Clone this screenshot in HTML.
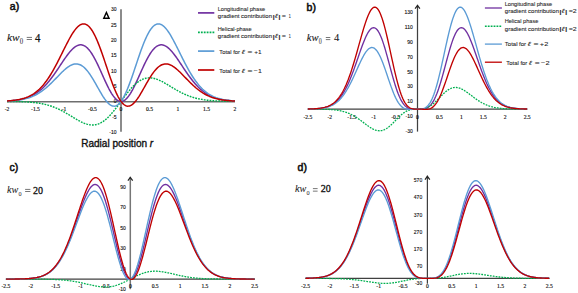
<!DOCTYPE html>
<html><head><meta charset="utf-8"><style>
html,body{margin:0;padding:0;background:#fff;}
body{width:578px;height:293px;overflow:hidden;font-family:"Liberation Sans",sans-serif;}
svg{display:block;}
</style></head><body>
<svg width="578" height="293" viewBox="0 0 578 293">
<rect width="578" height="293" fill="#fff"/>
<line x1="7.00" y1="101.75" x2="235.00" y2="101.75" stroke="#6e6e6e" stroke-width="1.6"/>
<line x1="121.00" y1="9.20" x2="121.00" y2="131.80" stroke="#6e6e6e" stroke-width="1.6"/>
<text x="116.60" y="11.40" font-family='"Liberation Sans", sans-serif' font-size="5.00" text-anchor="end" font-weight="normal" font-style="normal" fill="#111" stroke="#111" stroke-width="0.12">30</text>
<text x="116.60" y="26.70" font-family='"Liberation Sans", sans-serif' font-size="5.00" text-anchor="end" font-weight="normal" font-style="normal" fill="#111" stroke="#111" stroke-width="0.12">25</text>
<text x="116.60" y="42.00" font-family='"Liberation Sans", sans-serif' font-size="5.00" text-anchor="end" font-weight="normal" font-style="normal" fill="#111" stroke="#111" stroke-width="0.12">20</text>
<text x="116.60" y="57.30" font-family='"Liberation Sans", sans-serif' font-size="5.00" text-anchor="end" font-weight="normal" font-style="normal" fill="#111" stroke="#111" stroke-width="0.12">15</text>
<text x="116.60" y="72.60" font-family='"Liberation Sans", sans-serif' font-size="5.00" text-anchor="end" font-weight="normal" font-style="normal" fill="#111" stroke="#111" stroke-width="0.12">10</text>
<text x="116.60" y="87.90" font-family='"Liberation Sans", sans-serif' font-size="5.00" text-anchor="end" font-weight="normal" font-style="normal" fill="#111" stroke="#111" stroke-width="0.12">5</text>
<text x="116.60" y="103.20" font-family='"Liberation Sans", sans-serif' font-size="5.00" text-anchor="end" font-weight="normal" font-style="normal" fill="#111" stroke="#111" stroke-width="0.12">0</text>
<text x="116.60" y="118.50" font-family='"Liberation Sans", sans-serif' font-size="5.00" text-anchor="end" font-weight="normal" font-style="normal" fill="#111" stroke="#111" stroke-width="0.12">-5</text>
<text x="116.60" y="133.80" font-family='"Liberation Sans", sans-serif' font-size="5.00" text-anchor="end" font-weight="normal" font-style="normal" fill="#111" stroke="#111" stroke-width="0.12">-10</text>
<text x="7.00" y="110.80" font-family='"Liberation Serif", serif' font-size="5.60" text-anchor="middle" font-weight="normal" font-style="normal" fill="#000" stroke="#000" stroke-width="0.12">-2</text>
<text x="35.50" y="110.80" font-family='"Liberation Serif", serif' font-size="5.60" text-anchor="middle" font-weight="normal" font-style="normal" fill="#000" stroke="#000" stroke-width="0.12">-1.5</text>
<text x="64.00" y="110.80" font-family='"Liberation Serif", serif' font-size="5.60" text-anchor="middle" font-weight="normal" font-style="normal" fill="#000" stroke="#000" stroke-width="0.12">-1</text>
<text x="92.50" y="110.80" font-family='"Liberation Serif", serif' font-size="5.60" text-anchor="middle" font-weight="normal" font-style="normal" fill="#000" stroke="#000" stroke-width="0.12">-0.5</text>
<text x="121.00" y="110.80" font-family='"Liberation Serif", serif' font-size="5.60" text-anchor="middle" font-weight="normal" font-style="normal" fill="#000" stroke="#000" stroke-width="0.12">0</text>
<text x="149.50" y="110.80" font-family='"Liberation Serif", serif' font-size="5.60" text-anchor="middle" font-weight="normal" font-style="normal" fill="#000" stroke="#000" stroke-width="0.12">0.5</text>
<text x="178.00" y="110.80" font-family='"Liberation Serif", serif' font-size="5.60" text-anchor="middle" font-weight="normal" font-style="normal" fill="#000" stroke="#000" stroke-width="0.12">1</text>
<text x="206.50" y="110.80" font-family='"Liberation Serif", serif' font-size="5.60" text-anchor="middle" font-weight="normal" font-style="normal" fill="#000" stroke="#000" stroke-width="0.12">1.5</text>
<text x="235.00" y="110.80" font-family='"Liberation Serif", serif' font-size="5.60" text-anchor="middle" font-weight="normal" font-style="normal" fill="#000" stroke="#000" stroke-width="0.12">2</text>
<path d="M7.00,100.99 L7.95,100.94 L8.90,100.88 L9.85,100.82 L10.80,100.75 L11.75,100.67 L12.70,100.59 L13.65,100.49 L14.60,100.39 L15.55,100.28 L16.50,100.16 L17.45,100.02 L18.40,99.87 L19.35,99.71 L20.30,99.53 L21.25,99.34 L22.20,99.13 L23.15,98.90 L24.10,98.65 L25.05,98.39 L26.00,98.10 L26.95,97.78 L27.90,97.45 L28.85,97.09 L29.80,96.70 L30.75,96.28 L31.70,95.83 L32.65,95.35 L33.60,94.84 L34.55,94.29 L35.50,93.71 L36.45,93.10 L37.40,92.44 L38.35,91.75 L39.30,91.02 L40.25,90.25 L41.20,89.44 L42.15,88.59 L43.10,87.69 L44.05,86.76 L45.00,85.78 L45.95,84.76 L46.90,83.70 L47.85,82.60 L48.80,81.47 L49.75,80.29 L50.70,79.07 L51.65,77.82 L52.60,76.54 L53.55,75.23 L54.50,73.89 L55.45,72.52 L56.40,71.13 L57.35,69.73 L58.30,68.31 L59.25,66.88 L60.20,65.45 L61.15,64.02 L62.10,62.59 L63.05,61.18 L64.00,59.78 L64.95,58.41 L65.90,57.06 L66.85,55.75 L67.80,54.48 L68.75,53.27 L69.70,52.10 L70.65,51.00 L71.60,49.97 L72.55,49.02 L73.50,48.15 L74.45,47.36 L75.40,46.68 L76.35,46.09 L77.30,45.61 L78.25,45.24 L79.20,44.99 L80.15,44.85 L81.10,44.84 L82.05,44.96 L83.00,45.21 L83.95,45.59 L84.90,46.10 L85.85,46.74 L86.80,47.51 L87.75,48.41 L88.70,49.44 L89.65,50.60 L90.60,51.88 L91.55,53.27 L92.50,54.77 L93.45,56.37 L94.40,58.07 L95.35,59.86 L96.30,61.73 L97.25,63.67 L98.20,65.67 L99.15,67.72 L100.10,69.80 L101.05,71.91 L102.00,74.04 L102.95,76.17 L103.90,78.28 L104.85,80.37 L105.80,82.43 L106.75,84.44 L107.70,86.38 L108.65,88.26 L109.60,90.04 L110.55,91.74 L111.50,93.32 L112.45,94.79 L113.40,96.12 L114.35,97.33 L115.30,98.39 L116.25,99.29 L117.20,100.05 L118.15,100.64 L119.10,101.06 L120.05,101.31 L121.00,101.40 L121.95,101.31 L122.90,101.06 L123.85,100.64 L124.80,100.05 L125.75,99.29 L126.70,98.39 L127.65,97.33 L128.60,96.12 L129.55,94.79 L130.50,93.32 L131.45,91.74 L132.40,90.04 L133.35,88.26 L134.30,86.38 L135.25,84.44 L136.20,82.43 L137.15,80.37 L138.10,78.28 L139.05,76.17 L140.00,74.04 L140.95,71.91 L141.90,69.80 L142.85,67.72 L143.80,65.67 L144.75,63.67 L145.70,61.73 L146.65,59.86 L147.60,58.07 L148.55,56.37 L149.50,54.77 L150.45,53.27 L151.40,51.88 L152.35,50.60 L153.30,49.44 L154.25,48.41 L155.20,47.51 L156.15,46.74 L157.10,46.10 L158.05,45.59 L159.00,45.21 L159.95,44.96 L160.90,44.84 L161.85,44.85 L162.80,44.99 L163.75,45.24 L164.70,45.61 L165.65,46.09 L166.60,46.68 L167.55,47.36 L168.50,48.15 L169.45,49.02 L170.40,49.97 L171.35,51.00 L172.30,52.10 L173.25,53.27 L174.20,54.48 L175.15,55.75 L176.10,57.06 L177.05,58.41 L178.00,59.78 L178.95,61.18 L179.90,62.59 L180.85,64.02 L181.80,65.45 L182.75,66.88 L183.70,68.31 L184.65,69.73 L185.60,71.13 L186.55,72.52 L187.50,73.89 L188.45,75.23 L189.40,76.54 L190.35,77.82 L191.30,79.07 L192.25,80.29 L193.20,81.47 L194.15,82.60 L195.10,83.70 L196.05,84.76 L197.00,85.78 L197.95,86.76 L198.90,87.69 L199.85,88.59 L200.80,89.44 L201.75,90.25 L202.70,91.02 L203.65,91.75 L204.60,92.44 L205.55,93.10 L206.50,93.71 L207.45,94.29 L208.40,94.84 L209.35,95.35 L210.30,95.83 L211.25,96.28 L212.20,96.70 L213.15,97.09 L214.10,97.45 L215.05,97.78 L216.00,98.10 L216.95,98.39 L217.90,98.65 L218.85,98.90 L219.80,99.13 L220.75,99.34 L221.70,99.53 L222.65,99.71 L223.60,99.87 L224.55,100.02 L225.50,100.16 L226.45,100.28 L227.40,100.39 L228.35,100.49 L229.30,100.59 L230.25,100.67 L231.20,100.75 L232.15,100.82 L233.10,100.88 L234.05,100.94 L235.00,100.99" fill="none" stroke="#7030a0" stroke-width="1.5" stroke-linejoin="round" stroke-linecap="butt"/>
<path d="M7.00,101.45 L7.95,101.46 L8.90,101.47 L9.85,101.48 L10.80,101.49 L11.75,101.50 L12.70,101.51 L13.65,101.52 L14.60,101.54 L15.55,101.55 L16.50,101.57 L17.45,101.59 L18.40,101.61 L19.35,101.64 L20.30,101.67 L21.25,101.70 L22.20,101.73 L23.15,101.77 L24.10,101.81 L25.05,101.85 L26.00,101.90 L26.95,101.95 L27.90,102.01 L28.85,102.07 L29.80,102.14 L30.75,102.22 L31.70,102.30 L32.65,102.39 L33.60,102.48 L34.55,102.58 L35.50,102.70 L36.45,102.81 L37.40,102.94 L38.35,103.08 L39.30,103.23 L40.25,103.39 L41.20,103.56 L42.15,103.74 L43.10,103.93 L44.05,104.14 L45.00,104.36 L45.95,104.59 L46.90,104.84 L47.85,105.10 L48.80,105.38 L49.75,105.67 L50.70,105.98 L51.65,106.30 L52.60,106.64 L53.55,106.99 L54.50,107.36 L55.45,107.75 L56.40,108.15 L57.35,108.57 L58.30,109.00 L59.25,109.45 L60.20,109.92 L61.15,110.40 L62.10,110.89 L63.05,111.40 L64.00,111.92 L64.95,112.45 L65.90,112.99 L66.85,113.54 L67.80,114.10 L68.75,114.67 L69.70,115.24 L70.65,115.82 L71.60,116.40 L72.55,116.97 L73.50,117.55 L74.45,118.12 L75.40,118.69 L76.35,119.25 L77.30,119.79 L78.25,120.32 L79.20,120.84 L80.15,121.34 L81.10,121.82 L82.05,122.27 L83.00,122.70 L83.95,123.10 L84.90,123.47 L85.85,123.80 L86.80,124.10 L87.75,124.36 L88.70,124.57 L89.65,124.74 L90.60,124.87 L91.55,124.95 L92.50,124.97 L93.45,124.94 L94.40,124.86 L95.35,124.73 L96.30,124.54 L97.25,124.28 L98.20,123.98 L99.15,123.61 L100.10,123.18 L101.05,122.69 L102.00,122.15 L102.95,121.54 L103.90,120.88 L104.85,120.16 L105.80,119.38 L106.75,118.55 L107.70,117.66 L108.65,116.73 L109.60,115.75 L110.55,114.72 L111.50,113.65 L112.45,112.55 L113.40,111.40 L114.35,110.22 L115.30,109.02 L116.25,107.79 L117.20,106.54 L118.15,105.27 L119.10,103.99 L120.05,102.69 L121.00,101.40 L121.95,100.11 L122.90,98.81 L123.85,97.53 L124.80,96.26 L125.75,95.01 L126.70,93.78 L127.65,92.58 L128.60,91.40 L129.55,90.25 L130.50,89.15 L131.45,88.08 L132.40,87.05 L133.35,86.07 L134.30,85.14 L135.25,84.25 L136.20,83.42 L137.15,82.64 L138.10,81.92 L139.05,81.26 L140.00,80.65 L140.95,80.11 L141.90,79.62 L142.85,79.19 L143.80,78.82 L144.75,78.52 L145.70,78.26 L146.65,78.07 L147.60,77.94 L148.55,77.86 L149.50,77.83 L150.45,77.85 L151.40,77.93 L152.35,78.06 L153.30,78.23 L154.25,78.44 L155.20,78.70 L156.15,79.00 L157.10,79.33 L158.05,79.70 L159.00,80.10 L159.95,80.53 L160.90,80.98 L161.85,81.46 L162.80,81.96 L163.75,82.48 L164.70,83.01 L165.65,83.55 L166.60,84.11 L167.55,84.68 L168.50,85.25 L169.45,85.83 L170.40,86.40 L171.35,86.98 L172.30,87.56 L173.25,88.13 L174.20,88.70 L175.15,89.26 L176.10,89.81 L177.05,90.35 L178.00,90.88 L178.95,91.40 L179.90,91.91 L180.85,92.40 L181.80,92.88 L182.75,93.35 L183.70,93.80 L184.65,94.23 L185.60,94.65 L186.55,95.05 L187.50,95.44 L188.45,95.81 L189.40,96.16 L190.35,96.50 L191.30,96.82 L192.25,97.13 L193.20,97.42 L194.15,97.70 L195.10,97.96 L196.05,98.21 L197.00,98.44 L197.95,98.66 L198.90,98.87 L199.85,99.06 L200.80,99.24 L201.75,99.41 L202.70,99.57 L203.65,99.72 L204.60,99.86 L205.55,99.99 L206.50,100.10 L207.45,100.22 L208.40,100.32 L209.35,100.41 L210.30,100.50 L211.25,100.58 L212.20,100.66 L213.15,100.73 L214.10,100.79 L215.05,100.85 L216.00,100.90 L216.95,100.95 L217.90,100.99 L218.85,101.03 L219.80,101.07 L220.75,101.10 L221.70,101.13 L222.65,101.16 L223.60,101.19 L224.55,101.21 L225.50,101.23 L226.45,101.25 L227.40,101.26 L228.35,101.28 L229.30,101.29 L230.25,101.30 L231.20,101.31 L232.15,101.32 L233.10,101.33 L234.05,101.34 L235.00,101.35" fill="none" stroke="#00b050" stroke-width="1.4249999999999998" stroke-linejoin="round" stroke-linecap="butt" stroke-dasharray="1.8,1.1"/>
<path d="M7.00,101.04 L7.95,101.00 L8.90,100.95 L9.85,100.89 L10.80,100.83 L11.75,100.77 L12.70,100.70 L13.65,100.62 L14.60,100.53 L15.55,100.43 L16.50,100.33 L17.45,100.21 L18.40,100.09 L19.35,99.95 L20.30,99.80 L21.25,99.64 L22.20,99.46 L23.15,99.27 L24.10,99.06 L25.05,98.84 L26.00,98.60 L26.95,98.34 L27.90,98.06 L28.85,97.76 L29.80,97.44 L30.75,97.09 L31.70,96.73 L32.65,96.34 L33.60,95.92 L34.55,95.48 L35.50,95.01 L36.45,94.51 L37.40,93.99 L38.35,93.43 L39.30,92.85 L40.25,92.24 L41.20,91.60 L42.15,90.93 L43.10,90.23 L44.05,89.50 L45.00,88.74 L45.95,87.96 L46.90,87.14 L47.85,86.31 L48.80,85.44 L49.75,84.56 L50.70,83.65 L51.65,82.72 L52.60,81.78 L53.55,80.82 L54.50,79.85 L55.45,78.87 L56.40,77.88 L57.35,76.90 L58.30,75.91 L59.25,74.94 L60.20,73.97 L61.15,73.02 L62.10,72.08 L63.05,71.18 L64.00,70.30 L64.95,69.46 L65.90,68.65 L66.85,67.90 L67.80,67.19 L68.75,66.54 L69.70,65.95 L70.65,65.42 L71.60,64.97 L72.55,64.59 L73.50,64.30 L74.45,64.09 L75.40,63.97 L76.35,63.94 L77.30,64.00 L78.25,64.16 L79.20,64.43 L80.15,64.79 L81.10,65.26 L82.05,65.84 L83.00,66.51 L83.95,67.29 L84.90,68.17 L85.85,69.14 L86.80,70.21 L87.75,71.37 L88.70,72.62 L89.65,73.94 L90.60,75.34 L91.55,76.81 L92.50,78.34 L93.45,79.92 L94.40,81.54 L95.35,83.19 L96.30,84.87 L97.25,86.56 L98.20,88.25 L99.15,89.92 L100.10,91.58 L101.05,93.21 L102.00,94.78 L102.95,96.31 L103.90,97.76 L104.85,99.13 L105.80,100.41 L106.75,101.59 L107.70,102.65 L108.65,103.59 L109.60,104.39 L110.55,105.06 L111.50,105.57 L112.45,105.93 L113.40,106.12 L114.35,106.15 L115.30,106.00 L116.25,105.68 L117.20,105.18 L118.15,104.50 L119.10,103.64 L120.05,102.61 L121.00,101.40 L121.95,100.02 L122.90,98.47 L123.85,96.77 L124.80,94.91 L125.75,92.91 L126.70,90.77 L127.65,88.50 L128.60,86.12 L129.55,83.64 L130.50,81.07 L131.45,78.41 L132.40,75.69 L133.35,72.93 L134.30,70.12 L135.25,67.29 L136.20,64.45 L137.15,61.62 L138.10,58.81 L139.05,56.03 L140.00,53.29 L140.95,50.62 L141.90,48.02 L142.85,45.51 L143.80,43.09 L144.75,40.79 L145.70,38.60 L146.65,36.54 L147.60,34.61 L148.55,32.83 L149.50,31.20 L150.45,29.72 L151.40,28.41 L152.35,27.26 L153.30,26.27 L154.25,25.46 L155.20,24.81 L156.15,24.34 L157.10,24.03 L158.05,23.89 L159.00,23.91 L159.95,24.09 L160.90,24.43 L161.85,24.91 L162.80,25.54 L163.75,26.31 L164.70,27.22 L165.65,28.24 L166.60,29.39 L167.55,30.64 L168.50,32.00 L169.45,33.44 L170.40,34.98 L171.35,36.58 L172.30,38.26 L173.25,39.99 L174.20,41.78 L175.15,43.61 L176.10,45.47 L177.05,47.36 L178.00,49.26 L178.95,51.18 L179.90,53.10 L180.85,55.02 L181.80,56.93 L182.75,58.83 L183.70,60.71 L184.65,62.56 L185.60,64.39 L186.55,66.17 L187.50,67.93 L188.45,69.64 L189.40,71.31 L190.35,72.93 L191.30,74.50 L192.25,76.02 L193.20,77.49 L194.15,78.90 L195.10,80.26 L196.05,81.57 L197.00,82.82 L197.95,84.02 L198.90,85.16 L199.85,86.25 L200.80,87.28 L201.75,88.26 L202.70,89.19 L203.65,90.07 L204.60,90.90 L205.55,91.68 L206.50,92.42 L207.45,93.11 L208.40,93.76 L209.35,94.36 L210.30,94.93 L211.25,95.46 L212.20,95.95 L213.15,96.41 L214.10,96.84 L215.05,97.23 L216.00,97.60 L216.95,97.93 L217.90,98.25 L218.85,98.53 L219.80,98.80 L220.75,99.04 L221.70,99.27 L222.65,99.47 L223.60,99.66 L224.55,99.83 L225.50,99.98 L226.45,100.13 L227.40,100.26 L228.35,100.37 L229.30,100.48 L230.25,100.58 L231.20,100.66 L232.15,100.74 L233.10,100.81 L234.05,100.88 L235.00,100.94" fill="none" stroke="#5b9bd5" stroke-width="1.5" stroke-linejoin="round" stroke-linecap="butt"/>
<path d="M7.00,100.94 L7.95,100.88 L8.90,100.81 L9.85,100.74 L10.80,100.66 L11.75,100.58 L12.70,100.48 L13.65,100.37 L14.60,100.26 L15.55,100.13 L16.50,99.98 L17.45,99.83 L18.40,99.66 L19.35,99.47 L20.30,99.27 L21.25,99.04 L22.20,98.80 L23.15,98.53 L24.10,98.25 L25.05,97.93 L26.00,97.60 L26.95,97.23 L27.90,96.84 L28.85,96.41 L29.80,95.95 L30.75,95.46 L31.70,94.93 L32.65,94.36 L33.60,93.76 L34.55,93.11 L35.50,92.42 L36.45,91.68 L37.40,90.90 L38.35,90.07 L39.30,89.19 L40.25,88.26 L41.20,87.28 L42.15,86.25 L43.10,85.16 L44.05,84.02 L45.00,82.82 L45.95,81.57 L46.90,80.26 L47.85,78.90 L48.80,77.49 L49.75,76.02 L50.70,74.50 L51.65,72.93 L52.60,71.31 L53.55,69.64 L54.50,67.93 L55.45,66.17 L56.40,64.39 L57.35,62.56 L58.30,60.71 L59.25,58.83 L60.20,56.93 L61.15,55.02 L62.10,53.10 L63.05,51.18 L64.00,49.26 L64.95,47.36 L65.90,45.47 L66.85,43.61 L67.80,41.78 L68.75,39.99 L69.70,38.26 L70.65,36.58 L71.60,34.98 L72.55,33.44 L73.50,32.00 L74.45,30.64 L75.40,29.39 L76.35,28.24 L77.30,27.22 L78.25,26.31 L79.20,25.54 L80.15,24.91 L81.10,24.43 L82.05,24.09 L83.00,23.91 L83.95,23.89 L84.90,24.03 L85.85,24.34 L86.80,24.81 L87.75,25.46 L88.70,26.27 L89.65,27.26 L90.60,28.41 L91.55,29.72 L92.50,31.20 L93.45,32.83 L94.40,34.61 L95.35,36.54 L96.30,38.60 L97.25,40.79 L98.20,43.09 L99.15,45.51 L100.10,48.02 L101.05,50.62 L102.00,53.29 L102.95,56.03 L103.90,58.81 L104.85,61.62 L105.80,64.45 L106.75,67.29 L107.70,70.12 L108.65,72.93 L109.60,75.69 L110.55,78.41 L111.50,81.07 L112.45,83.64 L113.40,86.12 L114.35,88.50 L115.30,90.77 L116.25,92.91 L117.20,94.91 L118.15,96.77 L119.10,98.47 L120.05,100.02 L121.00,101.40 L121.95,102.61 L122.90,103.64 L123.85,104.50 L124.80,105.18 L125.75,105.68 L126.70,106.00 L127.65,106.15 L128.60,106.12 L129.55,105.93 L130.50,105.57 L131.45,105.06 L132.40,104.39 L133.35,103.59 L134.30,102.65 L135.25,101.59 L136.20,100.41 L137.15,99.13 L138.10,97.76 L139.05,96.31 L140.00,94.78 L140.95,93.21 L141.90,91.58 L142.85,89.92 L143.80,88.25 L144.75,86.56 L145.70,84.87 L146.65,83.19 L147.60,81.54 L148.55,79.92 L149.50,78.34 L150.45,76.81 L151.40,75.34 L152.35,73.94 L153.30,72.62 L154.25,71.37 L155.20,70.21 L156.15,69.14 L157.10,68.17 L158.05,67.29 L159.00,66.51 L159.95,65.84 L160.90,65.26 L161.85,64.79 L162.80,64.43 L163.75,64.16 L164.70,64.00 L165.65,63.94 L166.60,63.97 L167.55,64.09 L168.50,64.30 L169.45,64.59 L170.40,64.97 L171.35,65.42 L172.30,65.95 L173.25,66.54 L174.20,67.19 L175.15,67.90 L176.10,68.65 L177.05,69.46 L178.00,70.30 L178.95,71.18 L179.90,72.08 L180.85,73.02 L181.80,73.97 L182.75,74.94 L183.70,75.91 L184.65,76.90 L185.60,77.88 L186.55,78.87 L187.50,79.85 L188.45,80.82 L189.40,81.78 L190.35,82.72 L191.30,83.65 L192.25,84.56 L193.20,85.44 L194.15,86.31 L195.10,87.14 L196.05,87.96 L197.00,88.74 L197.95,89.50 L198.90,90.23 L199.85,90.93 L200.80,91.60 L201.75,92.24 L202.70,92.85 L203.65,93.43 L204.60,93.99 L205.55,94.51 L206.50,95.01 L207.45,95.48 L208.40,95.92 L209.35,96.34 L210.30,96.73 L211.25,97.09 L212.20,97.44 L213.15,97.76 L214.10,98.06 L215.05,98.34 L216.00,98.60 L216.95,98.84 L217.90,99.06 L218.85,99.27 L219.80,99.46 L220.75,99.64 L221.70,99.80 L222.65,99.95 L223.60,100.09 L224.55,100.21 L225.50,100.33 L226.45,100.43 L227.40,100.53 L228.35,100.62 L229.30,100.70 L230.25,100.77 L231.20,100.83 L232.15,100.89 L233.10,100.95 L234.05,101.00 L235.00,101.04" fill="none" stroke="#c00000" stroke-width="1.5" stroke-linejoin="round" stroke-linecap="butt"/>
<line x1="307.85" y1="109.10" x2="527.15" y2="109.10" stroke="#404040" stroke-width="1.25"/>
<line x1="417.50" y1="4.80" x2="417.50" y2="131.60" stroke="#404040" stroke-width="1.25"/>
<path d="M415.10,8.70 L417.50,5.40 L419.90,8.70" fill="none" stroke="#222" stroke-width="1.2" stroke-linejoin="miter"/>
<text x="412.80" y="13.72" font-family='"Liberation Sans", sans-serif' font-size="5.00" text-anchor="end" font-weight="normal" font-style="normal" fill="#111" stroke="#111" stroke-width="0.12">130</text>
<text x="412.80" y="28.67" font-family='"Liberation Sans", sans-serif' font-size="5.00" text-anchor="end" font-weight="normal" font-style="normal" fill="#111" stroke="#111" stroke-width="0.12">110</text>
<text x="412.80" y="43.62" font-family='"Liberation Sans", sans-serif' font-size="5.00" text-anchor="end" font-weight="normal" font-style="normal" fill="#111" stroke="#111" stroke-width="0.12">90</text>
<text x="412.80" y="58.57" font-family='"Liberation Sans", sans-serif' font-size="5.00" text-anchor="end" font-weight="normal" font-style="normal" fill="#111" stroke="#111" stroke-width="0.12">70</text>
<text x="412.80" y="73.52" font-family='"Liberation Sans", sans-serif' font-size="5.00" text-anchor="end" font-weight="normal" font-style="normal" fill="#111" stroke="#111" stroke-width="0.12">50</text>
<text x="412.80" y="88.47" font-family='"Liberation Sans", sans-serif' font-size="5.00" text-anchor="end" font-weight="normal" font-style="normal" fill="#111" stroke="#111" stroke-width="0.12">30</text>
<text x="412.80" y="103.42" font-family='"Liberation Sans", sans-serif' font-size="5.00" text-anchor="end" font-weight="normal" font-style="normal" fill="#111" stroke="#111" stroke-width="0.12">10</text>
<text x="412.80" y="118.37" font-family='"Liberation Sans", sans-serif' font-size="5.00" text-anchor="end" font-weight="normal" font-style="normal" fill="#111" stroke="#111" stroke-width="0.12">-10</text>
<text x="412.80" y="133.33" font-family='"Liberation Sans", sans-serif' font-size="5.00" text-anchor="end" font-weight="normal" font-style="normal" fill="#111" stroke="#111" stroke-width="0.12">-30</text>
<text x="307.85" y="118.70" font-family='"Liberation Serif", serif' font-size="5.60" text-anchor="middle" font-weight="normal" font-style="normal" fill="#000" stroke="#000" stroke-width="0.12">-2.5</text>
<text x="329.78" y="118.70" font-family='"Liberation Serif", serif' font-size="5.60" text-anchor="middle" font-weight="normal" font-style="normal" fill="#000" stroke="#000" stroke-width="0.12">-2</text>
<text x="351.71" y="118.70" font-family='"Liberation Serif", serif' font-size="5.60" text-anchor="middle" font-weight="normal" font-style="normal" fill="#000" stroke="#000" stroke-width="0.12">-1.5</text>
<text x="373.64" y="118.70" font-family='"Liberation Serif", serif' font-size="5.60" text-anchor="middle" font-weight="normal" font-style="normal" fill="#000" stroke="#000" stroke-width="0.12">-1</text>
<text x="395.57" y="118.70" font-family='"Liberation Serif", serif' font-size="5.60" text-anchor="middle" font-weight="normal" font-style="normal" fill="#000" stroke="#000" stroke-width="0.12">-0.5</text>
<text x="417.50" y="118.70" font-family='"Liberation Serif", serif' font-size="5.60" text-anchor="middle" font-weight="normal" font-style="normal" fill="#000" stroke="#000" stroke-width="0.12">0</text>
<text x="439.43" y="118.70" font-family='"Liberation Serif", serif' font-size="5.60" text-anchor="middle" font-weight="normal" font-style="normal" fill="#000" stroke="#000" stroke-width="0.12">0.5</text>
<text x="461.36" y="118.70" font-family='"Liberation Serif", serif' font-size="5.60" text-anchor="middle" font-weight="normal" font-style="normal" fill="#000" stroke="#000" stroke-width="0.12">1</text>
<text x="483.29" y="118.70" font-family='"Liberation Serif", serif' font-size="5.60" text-anchor="middle" font-weight="normal" font-style="normal" fill="#000" stroke="#000" stroke-width="0.12">1.5</text>
<text x="505.22" y="118.70" font-family='"Liberation Serif", serif' font-size="5.60" text-anchor="middle" font-weight="normal" font-style="normal" fill="#000" stroke="#000" stroke-width="0.12">2</text>
<text x="527.15" y="118.70" font-family='"Liberation Serif", serif' font-size="5.60" text-anchor="middle" font-weight="normal" font-style="normal" fill="#000" stroke="#000" stroke-width="0.12">2.5</text>
<path d="M307.85,109.01 L308.76,109.00 L309.68,108.98 L310.59,108.95 L311.50,108.93 L312.42,108.90 L313.33,108.86 L314.25,108.82 L315.16,108.77 L316.07,108.71 L316.99,108.64 L317.90,108.57 L318.81,108.48 L319.73,108.38 L320.64,108.27 L321.56,108.14 L322.47,107.99 L323.38,107.82 L324.30,107.63 L325.21,107.42 L326.12,107.17 L327.04,106.90 L327.95,106.60 L328.87,106.25 L329.78,105.87 L330.69,105.44 L331.61,104.97 L332.52,104.45 L333.44,103.87 L334.35,103.23 L335.26,102.53 L336.18,101.76 L337.09,100.92 L338.00,100.00 L338.92,99.00 L339.83,97.92 L340.75,96.75 L341.66,95.50 L342.57,94.14 L343.49,92.70 L344.40,91.15 L345.31,89.51 L346.23,87.76 L347.14,85.91 L348.06,83.97 L348.97,81.93 L349.88,79.79 L350.80,77.57 L351.71,75.26 L352.62,72.87 L353.54,70.41 L354.45,67.89 L355.37,65.32 L356.28,62.71 L357.19,60.07 L358.11,57.42 L359.02,54.77 L359.93,52.15 L360.85,49.55 L361.76,47.02 L362.68,44.55 L363.59,42.18 L364.50,39.92 L365.42,37.80 L366.33,35.83 L367.24,34.03 L368.16,32.42 L369.07,31.01 L369.99,29.84 L370.90,28.90 L371.81,28.22 L372.73,27.80 L373.64,27.66 L374.55,27.81 L375.47,28.24 L376.38,28.95 L377.30,29.96 L378.21,31.25 L379.12,32.82 L380.04,34.65 L380.95,36.74 L381.86,39.07 L382.78,41.62 L383.69,44.36 L384.61,47.29 L385.52,50.36 L386.43,53.57 L387.35,56.87 L388.26,60.23 L389.17,63.64 L390.09,67.06 L391.00,70.46 L391.92,73.82 L392.83,77.11 L393.74,80.29 L394.66,83.36 L395.57,86.29 L396.48,89.06 L397.40,91.66 L398.31,94.07 L399.23,96.28 L400.14,98.30 L401.05,100.12 L401.97,101.73 L402.88,103.15 L403.79,104.38 L404.71,105.43 L405.62,106.30 L406.54,107.03 L407.45,107.61 L408.36,108.06 L409.28,108.41 L410.19,108.66 L411.10,108.84 L412.02,108.96 L412.93,109.03 L413.84,109.07 L414.76,109.09 L415.67,109.10 L416.59,109.10 L417.50,109.10 L418.41,109.10 L419.33,109.10 L420.24,109.09 L421.16,109.07 L422.07,109.03 L422.98,108.96 L423.90,108.84 L424.81,108.66 L425.72,108.41 L426.64,108.06 L427.55,107.61 L428.46,107.03 L429.38,106.30 L430.29,105.43 L431.21,104.38 L432.12,103.15 L433.03,101.73 L433.95,100.12 L434.86,98.30 L435.77,96.28 L436.69,94.07 L437.60,91.66 L438.52,89.06 L439.43,86.29 L440.34,83.36 L441.26,80.29 L442.17,77.11 L443.08,73.82 L444.00,70.46 L444.91,67.06 L445.83,63.64 L446.74,60.23 L447.65,56.87 L448.57,53.57 L449.48,50.36 L450.39,47.29 L451.31,44.36 L452.22,41.62 L453.14,39.07 L454.05,36.74 L454.96,34.65 L455.88,32.82 L456.79,31.25 L457.70,29.96 L458.62,28.95 L459.53,28.24 L460.45,27.81 L461.36,27.66 L462.27,27.80 L463.19,28.22 L464.10,28.90 L465.01,29.84 L465.93,31.01 L466.84,32.42 L467.76,34.03 L468.67,35.83 L469.58,37.80 L470.50,39.92 L471.41,42.18 L472.32,44.55 L473.24,47.02 L474.15,49.55 L475.07,52.15 L475.98,54.77 L476.89,57.42 L477.81,60.07 L478.72,62.71 L479.63,65.32 L480.55,67.89 L481.46,70.41 L482.38,72.87 L483.29,75.26 L484.20,77.57 L485.12,79.79 L486.03,81.93 L486.94,83.97 L487.86,85.91 L488.77,87.76 L489.69,89.51 L490.60,91.15 L491.51,92.70 L492.43,94.14 L493.34,95.50 L494.25,96.75 L495.17,97.92 L496.08,99.00 L497.00,100.00 L497.91,100.92 L498.82,101.76 L499.74,102.53 L500.65,103.23 L501.56,103.87 L502.48,104.45 L503.39,104.97 L504.31,105.44 L505.22,105.87 L506.13,106.25 L507.05,106.60 L507.96,106.90 L508.88,107.17 L509.79,107.42 L510.70,107.63 L511.62,107.82 L512.53,107.99 L513.44,108.14 L514.36,108.27 L515.27,108.38 L516.18,108.48 L517.10,108.57 L518.01,108.64 L518.93,108.71 L519.84,108.77 L520.75,108.82 L521.67,108.86 L522.58,108.90 L523.50,108.93 L524.41,108.95 L525.32,108.98 L526.24,109.00 L527.15,109.01" fill="none" stroke="#7030a0" stroke-width="1.35" stroke-linejoin="round" stroke-linecap="butt"/>
<path d="M307.85,109.11 L308.76,109.11 L309.68,109.11 L310.59,109.11 L311.50,109.12 L312.42,109.12 L313.33,109.13 L314.25,109.13 L315.16,109.14 L316.07,109.14 L316.99,109.15 L317.90,109.16 L318.81,109.17 L319.73,109.18 L320.64,109.19 L321.56,109.21 L322.47,109.23 L323.38,109.25 L324.30,109.27 L325.21,109.30 L326.12,109.33 L327.04,109.36 L327.95,109.40 L328.87,109.45 L329.78,109.50 L330.69,109.56 L331.61,109.62 L332.52,109.70 L333.44,109.78 L334.35,109.87 L335.26,109.97 L336.18,110.08 L337.09,110.21 L338.00,110.35 L338.92,110.50 L339.83,110.67 L340.75,110.85 L341.66,111.05 L342.57,111.28 L343.49,111.52 L344.40,111.78 L345.31,112.06 L346.23,112.36 L347.14,112.69 L348.06,113.04 L348.97,113.42 L349.88,113.82 L350.80,114.25 L351.71,114.71 L352.62,115.19 L353.54,115.69 L354.45,116.22 L355.37,116.78 L356.28,117.36 L357.19,117.96 L358.11,118.58 L359.02,119.22 L359.93,119.88 L360.85,120.55 L361.76,121.24 L362.68,121.93 L363.59,122.63 L364.50,123.32 L365.42,124.02 L366.33,124.70 L367.24,125.38 L368.16,126.04 L369.07,126.67 L369.99,127.28 L370.90,127.85 L371.81,128.39 L372.73,128.89 L373.64,129.33 L374.55,129.73 L375.47,130.06 L376.38,130.34 L377.30,130.55 L378.21,130.69 L379.12,130.76 L380.04,130.75 L380.95,130.67 L381.86,130.51 L382.78,130.28 L383.69,129.97 L384.61,129.58 L385.52,129.11 L386.43,128.58 L387.35,127.98 L388.26,127.31 L389.17,126.59 L390.09,125.81 L391.00,124.99 L391.92,124.13 L392.83,123.23 L393.74,122.31 L394.66,121.38 L395.57,120.43 L396.48,119.49 L397.40,118.56 L398.31,117.64 L399.23,116.74 L400.14,115.88 L401.05,115.05 L401.97,114.27 L402.88,113.53 L403.79,112.85 L404.71,112.23 L405.62,111.66 L406.54,111.16 L407.45,110.72 L408.36,110.34 L409.28,110.02 L410.19,109.75 L411.10,109.54 L412.02,109.38 L412.93,109.27 L413.84,109.19 L414.76,109.14 L415.67,109.11 L416.59,109.10 L417.50,109.10 L418.41,109.10 L419.33,109.09 L420.24,109.06 L421.16,109.01 L422.07,108.93 L422.98,108.82 L423.90,108.66 L424.81,108.45 L425.72,108.18 L426.64,107.86 L427.55,107.48 L428.46,107.04 L429.38,106.54 L430.29,105.97 L431.21,105.35 L432.12,104.67 L433.03,103.93 L433.95,103.15 L434.86,102.32 L435.77,101.46 L436.69,100.56 L437.60,99.64 L438.52,98.71 L439.43,97.77 L440.34,96.82 L441.26,95.89 L442.17,94.97 L443.08,94.07 L444.00,93.21 L444.91,92.39 L445.83,91.61 L446.74,90.89 L447.65,90.22 L448.57,89.62 L449.48,89.09 L450.39,88.62 L451.31,88.23 L452.22,87.92 L453.14,87.69 L454.05,87.53 L454.96,87.45 L455.88,87.44 L456.79,87.51 L457.70,87.65 L458.62,87.86 L459.53,88.14 L460.45,88.47 L461.36,88.87 L462.27,89.31 L463.19,89.81 L464.10,90.35 L465.01,90.92 L465.93,91.53 L466.84,92.16 L467.76,92.82 L468.67,93.50 L469.58,94.18 L470.50,94.88 L471.41,95.57 L472.32,96.27 L473.24,96.96 L474.15,97.65 L475.07,98.32 L475.98,98.98 L476.89,99.62 L477.81,100.24 L478.72,100.84 L479.63,101.42 L480.55,101.98 L481.46,102.51 L482.38,103.01 L483.29,103.49 L484.20,103.95 L485.12,104.38 L486.03,104.78 L486.94,105.16 L487.86,105.51 L488.77,105.84 L489.69,106.14 L490.60,106.42 L491.51,106.68 L492.43,106.92 L493.34,107.15 L494.25,107.35 L495.17,107.53 L496.08,107.70 L497.00,107.85 L497.91,107.99 L498.82,108.12 L499.74,108.23 L500.65,108.33 L501.56,108.42 L502.48,108.50 L503.39,108.58 L504.31,108.64 L505.22,108.70 L506.13,108.75 L507.05,108.80 L507.96,108.84 L508.88,108.87 L509.79,108.90 L510.70,108.93 L511.62,108.95 L512.53,108.97 L513.44,108.99 L514.36,109.01 L515.27,109.02 L516.18,109.03 L517.10,109.04 L518.01,109.05 L518.93,109.06 L519.84,109.06 L520.75,109.07 L521.67,109.07 L522.58,109.08 L523.50,109.08 L524.41,109.09 L525.32,109.09 L526.24,109.09 L527.15,109.09" fill="none" stroke="#00b050" stroke-width="1.2825" stroke-linejoin="round" stroke-linecap="butt" stroke-dasharray="1.8,1.1"/>
<path d="M307.85,109.02 L308.76,109.01 L309.68,108.99 L310.59,108.97 L311.50,108.94 L312.42,108.92 L313.33,108.88 L314.25,108.85 L315.16,108.80 L316.07,108.75 L316.99,108.69 L317.90,108.63 L318.81,108.55 L319.73,108.46 L320.64,108.36 L321.56,108.25 L322.47,108.12 L323.38,107.97 L324.30,107.80 L325.21,107.62 L326.12,107.40 L327.04,107.17 L327.95,106.90 L328.87,106.60 L329.78,106.27 L330.69,105.90 L331.61,105.49 L332.52,105.04 L333.44,104.55 L334.35,104.00 L335.26,103.40 L336.18,102.74 L337.09,102.03 L338.00,101.25 L338.92,100.40 L339.83,99.49 L340.75,98.51 L341.66,97.45 L342.57,96.32 L343.49,95.11 L344.40,93.83 L345.31,92.46 L346.23,91.02 L347.14,89.51 L348.06,87.91 L348.97,86.25 L349.88,84.52 L350.80,82.72 L351.71,80.86 L352.62,78.96 L353.54,77.00 L354.45,75.01 L355.37,73.00 L356.28,70.97 L357.19,68.93 L358.11,66.90 L359.02,64.90 L359.93,62.93 L360.85,61.01 L361.76,59.15 L362.68,57.38 L363.59,55.71 L364.50,54.15 L365.42,52.72 L366.33,51.43 L367.24,50.30 L368.16,49.35 L369.07,48.58 L369.99,48.01 L370.90,47.65 L371.81,47.51 L372.73,47.59 L373.64,47.90 L374.55,48.43 L375.47,49.20 L376.38,50.19 L377.30,51.41 L378.21,52.84 L379.12,54.48 L380.04,56.31 L380.95,58.31 L381.86,60.48 L382.78,62.79 L383.69,65.23 L384.61,67.76 L385.52,70.38 L386.43,73.04 L387.35,75.74 L388.26,78.45 L389.17,81.13 L390.09,83.77 L391.00,86.35 L391.92,88.85 L392.83,91.24 L393.74,93.51 L394.66,95.64 L395.57,97.62 L396.48,99.45 L397.40,101.11 L398.31,102.60 L399.23,103.93 L400.14,105.08 L401.05,106.07 L401.97,106.90 L402.88,107.59 L403.79,108.13 L404.71,108.56 L405.62,108.87 L406.54,109.09 L407.45,109.23 L408.36,109.30 L409.28,109.33 L410.19,109.32 L411.10,109.28 L412.02,109.24 L412.93,109.20 L413.84,109.16 L414.76,109.13 L415.67,109.11 L416.59,109.10 L417.50,109.10 L418.41,109.10 L419.33,109.09 L420.24,109.05 L421.16,108.99 L422.07,108.87 L422.98,108.67 L423.90,108.39 L424.81,108.01 L425.72,107.49 L426.64,106.82 L427.55,105.99 L428.46,104.96 L429.38,103.74 L430.29,102.30 L431.21,100.63 L432.12,98.72 L433.03,96.57 L433.95,94.17 L434.86,91.52 L435.77,88.64 L436.69,85.53 L437.60,82.20 L438.52,78.67 L439.43,74.95 L440.34,71.08 L441.26,67.08 L442.17,62.97 L443.08,58.80 L444.00,54.58 L444.91,50.35 L445.83,46.16 L446.74,42.02 L447.65,37.99 L448.57,34.09 L449.48,30.35 L450.39,26.81 L451.31,23.50 L452.22,20.44 L453.14,17.65 L454.05,15.17 L454.96,13.00 L455.88,11.16 L456.79,9.66 L457.70,8.51 L458.62,7.71 L459.53,7.27 L460.45,7.18 L461.36,7.43 L462.27,8.02 L463.19,8.93 L464.10,10.15 L465.01,11.66 L465.93,13.44 L466.84,15.48 L467.76,17.75 L468.67,20.22 L469.58,22.88 L470.50,25.70 L471.41,28.66 L472.32,31.72 L473.24,34.88 L474.15,38.10 L475.07,41.37 L475.98,44.65 L476.89,47.94 L477.81,51.21 L478.72,54.45 L479.63,57.64 L480.55,60.77 L481.46,63.82 L482.38,66.79 L483.29,69.65 L484.20,72.42 L485.12,75.07 L486.03,77.61 L486.94,80.03 L487.86,82.32 L488.77,84.50 L489.69,86.55 L490.60,88.47 L491.51,90.28 L492.43,91.97 L493.34,93.54 L494.25,95.00 L495.17,96.35 L496.08,97.60 L497.00,98.75 L497.91,99.81 L498.82,100.77 L499.74,101.66 L500.65,102.46 L501.56,103.19 L502.48,103.85 L503.39,104.45 L504.31,104.99 L505.22,105.47 L506.13,105.90 L507.05,106.29 L507.96,106.64 L508.88,106.94 L509.79,107.22 L510.70,107.46 L511.62,107.67 L512.53,107.86 L513.44,108.03 L514.36,108.18 L515.27,108.30 L516.18,108.41 L517.10,108.51 L518.01,108.60 L518.93,108.67 L519.84,108.73 L520.75,108.79 L521.67,108.83 L522.58,108.87 L523.50,108.91 L524.41,108.94 L525.32,108.96 L526.24,108.99 L527.15,109.00" fill="none" stroke="#5b9bd5" stroke-width="1.35" stroke-linejoin="round" stroke-linecap="butt"/>
<path d="M307.85,109.00 L308.76,108.99 L309.68,108.96 L310.59,108.94 L311.50,108.91 L312.42,108.87 L313.33,108.83 L314.25,108.79 L315.16,108.73 L316.07,108.67 L316.99,108.60 L317.90,108.51 L318.81,108.41 L319.73,108.30 L320.64,108.18 L321.56,108.03 L322.47,107.86 L323.38,107.67 L324.30,107.46 L325.21,107.22 L326.12,106.94 L327.04,106.64 L327.95,106.29 L328.87,105.90 L329.78,105.47 L330.69,104.99 L331.61,104.45 L332.52,103.85 L333.44,103.19 L334.35,102.46 L335.26,101.66 L336.18,100.77 L337.09,99.81 L338.00,98.75 L338.92,97.60 L339.83,96.35 L340.75,95.00 L341.66,93.54 L342.57,91.97 L343.49,90.28 L344.40,88.47 L345.31,86.55 L346.23,84.50 L347.14,82.32 L348.06,80.03 L348.97,77.61 L349.88,75.07 L350.80,72.42 L351.71,69.65 L352.62,66.79 L353.54,63.82 L354.45,60.77 L355.37,57.64 L356.28,54.45 L357.19,51.21 L358.11,47.94 L359.02,44.65 L359.93,41.37 L360.85,38.10 L361.76,34.88 L362.68,31.72 L363.59,28.66 L364.50,25.70 L365.42,22.88 L366.33,20.22 L367.24,17.75 L368.16,15.48 L369.07,13.44 L369.99,11.66 L370.90,10.15 L371.81,8.93 L372.73,8.02 L373.64,7.43 L374.55,7.18 L375.47,7.27 L376.38,7.71 L377.30,8.51 L378.21,9.66 L379.12,11.16 L380.04,13.00 L380.95,15.17 L381.86,17.65 L382.78,20.44 L383.69,23.50 L384.61,26.81 L385.52,30.35 L386.43,34.09 L387.35,37.99 L388.26,42.02 L389.17,46.16 L390.09,50.35 L391.00,54.58 L391.92,58.80 L392.83,62.97 L393.74,67.08 L394.66,71.08 L395.57,74.95 L396.48,78.67 L397.40,82.20 L398.31,85.53 L399.23,88.64 L400.14,91.52 L401.05,94.17 L401.97,96.57 L402.88,98.72 L403.79,100.63 L404.71,102.30 L405.62,103.74 L406.54,104.96 L407.45,105.99 L408.36,106.82 L409.28,107.49 L410.19,108.01 L411.10,108.39 L412.02,108.67 L412.93,108.87 L413.84,108.99 L414.76,109.05 L415.67,109.09 L416.59,109.10 L417.50,109.10 L418.41,109.10 L419.33,109.11 L420.24,109.13 L421.16,109.16 L422.07,109.20 L422.98,109.24 L423.90,109.28 L424.81,109.32 L425.72,109.33 L426.64,109.30 L427.55,109.23 L428.46,109.09 L429.38,108.87 L430.29,108.56 L431.21,108.13 L432.12,107.59 L433.03,106.90 L433.95,106.07 L434.86,105.08 L435.77,103.93 L436.69,102.60 L437.60,101.11 L438.52,99.45 L439.43,97.62 L440.34,95.64 L441.26,93.51 L442.17,91.24 L443.08,88.85 L444.00,86.35 L444.91,83.77 L445.83,81.13 L446.74,78.45 L447.65,75.74 L448.57,73.04 L449.48,70.38 L450.39,67.76 L451.31,65.23 L452.22,62.79 L453.14,60.48 L454.05,58.31 L454.96,56.31 L455.88,54.48 L456.79,52.84 L457.70,51.41 L458.62,50.19 L459.53,49.20 L460.45,48.43 L461.36,47.90 L462.27,47.59 L463.19,47.51 L464.10,47.65 L465.01,48.01 L465.93,48.58 L466.84,49.35 L467.76,50.30 L468.67,51.43 L469.58,52.72 L470.50,54.15 L471.41,55.71 L472.32,57.38 L473.24,59.15 L474.15,61.01 L475.07,62.93 L475.98,64.90 L476.89,66.90 L477.81,68.93 L478.72,70.97 L479.63,73.00 L480.55,75.01 L481.46,77.00 L482.38,78.96 L483.29,80.86 L484.20,82.72 L485.12,84.52 L486.03,86.25 L486.94,87.91 L487.86,89.51 L488.77,91.02 L489.69,92.46 L490.60,93.83 L491.51,95.11 L492.43,96.32 L493.34,97.45 L494.25,98.51 L495.17,99.49 L496.08,100.40 L497.00,101.25 L497.91,102.03 L498.82,102.74 L499.74,103.40 L500.65,104.00 L501.56,104.55 L502.48,105.04 L503.39,105.49 L504.31,105.90 L505.22,106.27 L506.13,106.60 L507.05,106.90 L507.96,107.17 L508.88,107.40 L509.79,107.62 L510.70,107.80 L511.62,107.97 L512.53,108.12 L513.44,108.25 L514.36,108.36 L515.27,108.46 L516.18,108.55 L517.10,108.63 L518.01,108.69 L518.93,108.75 L519.84,108.80 L520.75,108.85 L521.67,108.88 L522.58,108.92 L523.50,108.94 L524.41,108.97 L525.32,108.99 L526.24,109.01 L527.15,109.02" fill="none" stroke="#c00000" stroke-width="1.35" stroke-linejoin="round" stroke-linecap="butt"/>
<line x1="5.93" y1="279.10" x2="254.68" y2="279.10" stroke="#404040" stroke-width="1.25"/>
<line x1="130.30" y1="176.80" x2="130.30" y2="289.20" stroke="#767676" stroke-width="1.5"/>
<path d="M127.90,180.70 L130.30,177.40 L132.70,180.70" fill="none" stroke="#222" stroke-width="1.2" stroke-linejoin="miter"/>
<text x="125.90" y="188.65" font-family='"Liberation Sans", sans-serif' font-size="5.00" text-anchor="end" font-weight="normal" font-style="normal" fill="#111" stroke="#111" stroke-width="0.12">90</text>
<text x="125.90" y="209.15" font-family='"Liberation Sans", sans-serif' font-size="5.00" text-anchor="end" font-weight="normal" font-style="normal" fill="#111" stroke="#111" stroke-width="0.12">70</text>
<text x="125.90" y="229.65" font-family='"Liberation Sans", sans-serif' font-size="5.00" text-anchor="end" font-weight="normal" font-style="normal" fill="#111" stroke="#111" stroke-width="0.12">50</text>
<text x="125.90" y="250.15" font-family='"Liberation Sans", sans-serif' font-size="5.00" text-anchor="end" font-weight="normal" font-style="normal" fill="#111" stroke="#111" stroke-width="0.12">30</text>
<text x="125.90" y="270.65" font-family='"Liberation Sans", sans-serif' font-size="5.00" text-anchor="end" font-weight="normal" font-style="normal" fill="#111" stroke="#111" stroke-width="0.12">10</text>
<text x="125.90" y="291.15" font-family='"Liberation Sans", sans-serif' font-size="5.00" text-anchor="end" font-weight="normal" font-style="normal" fill="#111" stroke="#111" stroke-width="0.12">-10</text>
<text x="5.93" y="288.30" font-family='"Liberation Serif", serif' font-size="5.60" text-anchor="middle" font-weight="normal" font-style="normal" fill="#000" stroke="#000" stroke-width="0.12">-2.5</text>
<text x="30.80" y="288.30" font-family='"Liberation Serif", serif' font-size="5.60" text-anchor="middle" font-weight="normal" font-style="normal" fill="#000" stroke="#000" stroke-width="0.12">-2</text>
<text x="55.68" y="288.30" font-family='"Liberation Serif", serif' font-size="5.60" text-anchor="middle" font-weight="normal" font-style="normal" fill="#000" stroke="#000" stroke-width="0.12">-1.5</text>
<text x="80.55" y="288.30" font-family='"Liberation Serif", serif' font-size="5.60" text-anchor="middle" font-weight="normal" font-style="normal" fill="#000" stroke="#000" stroke-width="0.12">-1</text>
<text x="105.43" y="288.30" font-family='"Liberation Serif", serif' font-size="5.60" text-anchor="middle" font-weight="normal" font-style="normal" fill="#000" stroke="#000" stroke-width="0.12">-0.5</text>
<text x="130.30" y="288.30" font-family='"Liberation Serif", serif' font-size="5.60" text-anchor="middle" font-weight="normal" font-style="normal" fill="#000" stroke="#000" stroke-width="0.12">0</text>
<text x="155.18" y="288.30" font-family='"Liberation Serif", serif' font-size="5.60" text-anchor="middle" font-weight="normal" font-style="normal" fill="#000" stroke="#000" stroke-width="0.12">0.5</text>
<text x="180.05" y="288.30" font-family='"Liberation Serif", serif' font-size="5.60" text-anchor="middle" font-weight="normal" font-style="normal" fill="#000" stroke="#000" stroke-width="0.12">1</text>
<text x="204.93" y="288.30" font-family='"Liberation Serif", serif' font-size="5.60" text-anchor="middle" font-weight="normal" font-style="normal" fill="#000" stroke="#000" stroke-width="0.12">1.5</text>
<text x="229.80" y="288.30" font-family='"Liberation Serif", serif' font-size="5.60" text-anchor="middle" font-weight="normal" font-style="normal" fill="#000" stroke="#000" stroke-width="0.12">2</text>
<text x="254.68" y="288.30" font-family='"Liberation Serif", serif' font-size="5.60" text-anchor="middle" font-weight="normal" font-style="normal" fill="#000" stroke="#000" stroke-width="0.12">2.5</text>
<path d="M5.93,279.09 L6.96,279.09 L8.00,279.08 L9.03,279.08 L10.07,279.07 L11.11,279.07 L12.14,279.06 L13.18,279.06 L14.22,279.05 L15.25,279.04 L16.29,279.03 L17.33,279.01 L18.36,279.00 L19.40,278.98 L20.44,278.95 L21.47,278.93 L22.51,278.90 L23.54,278.86 L24.58,278.82 L25.62,278.77 L26.65,278.72 L27.69,278.66 L28.73,278.59 L29.76,278.50 L30.80,278.41 L31.84,278.30 L32.87,278.18 L33.91,278.04 L34.95,277.88 L35.98,277.70 L37.02,277.50 L38.06,277.27 L39.09,277.02 L40.13,276.73 L41.16,276.41 L42.20,276.05 L43.24,275.65 L44.27,275.21 L45.31,274.72 L46.35,274.17 L47.38,273.57 L48.42,272.91 L49.46,272.19 L50.49,271.40 L51.53,270.53 L52.57,269.58 L53.60,268.56 L54.64,267.44 L55.68,266.24 L56.71,264.94 L57.75,263.54 L58.78,262.05 L59.82,260.45 L60.86,258.74 L61.89,256.93 L62.93,255.00 L63.97,252.97 L65.00,250.83 L66.04,248.58 L67.08,246.23 L68.11,243.78 L69.15,241.23 L70.19,238.59 L71.22,235.86 L72.26,233.07 L73.29,230.20 L74.33,227.29 L75.37,224.33 L76.40,221.35 L77.44,218.35 L78.48,215.36 L79.51,212.39 L80.55,209.46 L81.59,206.60 L82.62,203.81 L83.66,201.12 L84.70,198.56 L85.73,196.15 L86.77,193.90 L87.81,191.85 L88.84,190.00 L89.88,188.39 L90.91,187.03 L91.95,185.94 L92.99,185.13 L94.02,184.64 L95.06,184.45 L96.10,184.60 L97.13,185.08 L98.17,185.91 L99.21,187.08 L100.24,188.59 L101.28,190.45 L102.32,192.63 L103.35,195.15 L104.39,197.97 L105.43,201.08 L106.46,204.46 L107.50,208.09 L108.53,211.94 L109.57,215.97 L110.61,220.17 L111.64,224.48 L112.68,228.88 L113.72,233.32 L114.75,237.77 L115.79,242.18 L116.83,246.51 L117.86,250.72 L118.90,254.77 L119.94,258.62 L120.97,262.24 L122.01,265.58 L123.04,268.61 L124.08,271.31 L125.12,273.64 L126.15,275.58 L127.19,277.11 L128.23,278.21 L129.26,278.88 L130.30,279.10 L131.34,278.88 L132.37,278.21 L133.41,277.11 L134.45,275.58 L135.48,273.64 L136.52,271.31 L137.56,268.61 L138.59,265.58 L139.63,262.24 L140.66,258.62 L141.70,254.77 L142.74,250.72 L143.77,246.51 L144.81,242.18 L145.85,237.77 L146.88,233.32 L147.92,228.88 L148.96,224.48 L149.99,220.17 L151.03,215.97 L152.07,211.94 L153.10,208.09 L154.14,204.46 L155.18,201.08 L156.21,197.97 L157.25,195.15 L158.28,192.63 L159.32,190.45 L160.36,188.59 L161.39,187.08 L162.43,185.91 L163.47,185.08 L164.50,184.60 L165.54,184.45 L166.58,184.64 L167.61,185.13 L168.65,185.94 L169.69,187.03 L170.72,188.39 L171.76,190.00 L172.79,191.85 L173.83,193.90 L174.87,196.15 L175.90,198.56 L176.94,201.12 L177.98,203.81 L179.01,206.60 L180.05,209.46 L181.09,212.39 L182.12,215.36 L183.16,218.35 L184.20,221.35 L185.23,224.33 L186.27,227.29 L187.31,230.20 L188.34,233.07 L189.38,235.86 L190.41,238.59 L191.45,241.23 L192.49,243.78 L193.52,246.23 L194.56,248.58 L195.60,250.83 L196.63,252.97 L197.67,255.00 L198.71,256.93 L199.74,258.74 L200.78,260.45 L201.82,262.05 L202.85,263.54 L203.89,264.94 L204.93,266.24 L205.96,267.44 L207.00,268.56 L208.03,269.58 L209.07,270.53 L210.11,271.40 L211.14,272.19 L212.18,272.91 L213.22,273.57 L214.25,274.17 L215.29,274.72 L216.33,275.21 L217.36,275.65 L218.40,276.05 L219.44,276.41 L220.47,276.73 L221.51,277.02 L222.54,277.27 L223.58,277.50 L224.62,277.70 L225.65,277.88 L226.69,278.04 L227.73,278.18 L228.76,278.30 L229.80,278.41 L230.84,278.50 L231.87,278.59 L232.91,278.66 L233.95,278.72 L234.98,278.77 L236.02,278.82 L237.06,278.86 L238.09,278.90 L239.13,278.93 L240.16,278.95 L241.20,278.98 L242.24,279.00 L243.27,279.01 L244.31,279.03 L245.35,279.04 L246.38,279.05 L247.42,279.06 L248.46,279.06 L249.49,279.07 L250.53,279.07 L251.57,279.08 L252.60,279.08 L253.64,279.09 L254.68,279.09" fill="none" stroke="#7030a0" stroke-width="1.35" stroke-linejoin="round" stroke-linecap="butt"/>
<path d="M5.93,279.10 L6.96,279.10 L8.00,279.10 L9.03,279.10 L10.07,279.10 L11.11,279.10 L12.14,279.10 L13.18,279.10 L14.22,279.10 L15.25,279.10 L16.29,279.10 L17.33,279.10 L18.36,279.10 L19.40,279.10 L20.44,279.10 L21.47,279.10 L22.51,279.10 L23.54,279.11 L24.58,279.11 L25.62,279.11 L26.65,279.11 L27.69,279.11 L28.73,279.11 L29.76,279.11 L30.80,279.12 L31.84,279.12 L32.87,279.12 L33.91,279.13 L34.95,279.13 L35.98,279.14 L37.02,279.14 L38.06,279.15 L39.09,279.16 L40.13,279.17 L41.16,279.18 L42.20,279.19 L43.24,279.20 L44.27,279.21 L45.31,279.23 L46.35,279.25 L47.38,279.27 L48.42,279.29 L49.46,279.32 L50.49,279.34 L51.53,279.37 L52.57,279.41 L53.60,279.45 L54.64,279.49 L55.68,279.53 L56.71,279.58 L57.75,279.64 L58.78,279.70 L59.82,279.77 L60.86,279.84 L61.89,279.92 L62.93,280.00 L63.97,280.09 L65.00,280.19 L66.04,280.30 L67.08,280.41 L68.11,280.53 L69.15,280.66 L70.19,280.80 L71.22,280.94 L72.26,281.10 L73.29,281.26 L74.33,281.43 L75.37,281.61 L76.40,281.80 L77.44,281.99 L78.48,282.20 L79.51,282.41 L80.55,282.62 L81.59,282.85 L82.62,283.08 L83.66,283.31 L84.70,283.55 L85.73,283.79 L86.77,284.03 L87.81,284.27 L88.84,284.51 L89.88,284.75 L90.91,284.98 L91.95,285.22 L92.99,285.44 L94.02,285.65 L95.06,285.86 L96.10,286.05 L97.13,286.24 L98.17,286.40 L99.21,286.55 L100.24,286.68 L101.28,286.79 L102.32,286.88 L103.35,286.94 L104.39,286.98 L105.43,287.00 L106.46,286.98 L107.50,286.94 L108.53,286.87 L109.57,286.77 L110.61,286.63 L111.64,286.47 L112.68,286.27 L113.72,286.05 L114.75,285.79 L115.79,285.51 L116.83,285.19 L117.86,284.84 L118.90,284.47 L119.94,284.07 L120.97,283.65 L122.01,283.20 L123.04,282.74 L124.08,282.25 L125.12,281.75 L126.15,281.24 L127.19,280.71 L128.23,280.18 L129.26,279.64 L130.30,279.10 L131.34,278.56 L132.37,278.02 L133.41,277.49 L134.45,276.96 L135.48,276.45 L136.52,275.95 L137.56,275.46 L138.59,275.00 L139.63,274.55 L140.66,274.13 L141.70,273.73 L142.74,273.36 L143.77,273.01 L144.81,272.69 L145.85,272.41 L146.88,272.15 L147.92,271.93 L148.96,271.73 L149.99,271.57 L151.03,271.43 L152.07,271.33 L153.10,271.26 L154.14,271.22 L155.18,271.20 L156.21,271.22 L157.25,271.26 L158.28,271.32 L159.32,271.41 L160.36,271.52 L161.39,271.65 L162.43,271.80 L163.47,271.96 L164.50,272.15 L165.54,272.34 L166.58,272.55 L167.61,272.76 L168.65,272.98 L169.69,273.22 L170.72,273.45 L171.76,273.69 L172.79,273.93 L173.83,274.17 L174.87,274.41 L175.90,274.65 L176.94,274.89 L177.98,275.12 L179.01,275.35 L180.05,275.58 L181.09,275.79 L182.12,276.00 L183.16,276.21 L184.20,276.40 L185.23,276.59 L186.27,276.77 L187.31,276.94 L188.34,277.10 L189.38,277.26 L190.41,277.40 L191.45,277.54 L192.49,277.67 L193.52,277.79 L194.56,277.90 L195.60,278.01 L196.63,278.11 L197.67,278.20 L198.71,278.28 L199.74,278.36 L200.78,278.43 L201.82,278.50 L202.85,278.56 L203.89,278.62 L204.93,278.67 L205.96,278.71 L207.00,278.75 L208.03,278.79 L209.07,278.83 L210.11,278.86 L211.14,278.88 L212.18,278.91 L213.22,278.93 L214.25,278.95 L215.29,278.97 L216.33,278.99 L217.36,279.00 L218.40,279.01 L219.44,279.02 L220.47,279.03 L221.51,279.04 L222.54,279.05 L223.58,279.06 L224.62,279.06 L225.65,279.07 L226.69,279.07 L227.73,279.08 L228.76,279.08 L229.80,279.08 L230.84,279.09 L231.87,279.09 L232.91,279.09 L233.95,279.09 L234.98,279.09 L236.02,279.09 L237.06,279.09 L238.09,279.10 L239.13,279.10 L240.16,279.10 L241.20,279.10 L242.24,279.10 L243.27,279.10 L244.31,279.10 L245.35,279.10 L246.38,279.10 L247.42,279.10 L248.46,279.10 L249.49,279.10 L250.53,279.10 L251.57,279.10 L252.60,279.10 L253.64,279.10 L254.68,279.10" fill="none" stroke="#00b050" stroke-width="1.2825" stroke-linejoin="round" stroke-linecap="butt" stroke-dasharray="1.8,1.1"/>
<path d="M5.93,279.09 L6.96,279.09 L8.00,279.08 L9.03,279.08 L10.07,279.08 L11.11,279.07 L12.14,279.06 L13.18,279.06 L14.22,279.05 L15.25,279.04 L16.29,279.03 L17.33,279.01 L18.36,279.00 L19.40,278.98 L20.44,278.96 L21.47,278.93 L22.51,278.90 L23.54,278.87 L24.58,278.83 L25.62,278.78 L26.65,278.73 L27.69,278.67 L28.73,278.60 L29.76,278.52 L30.80,278.43 L31.84,278.32 L32.87,278.20 L33.91,278.07 L34.95,277.91 L35.98,277.74 L37.02,277.54 L38.06,277.32 L39.09,277.08 L40.13,276.80 L41.16,276.49 L42.20,276.14 L43.24,275.75 L44.27,275.32 L45.31,274.85 L46.35,274.32 L47.38,273.74 L48.42,273.10 L49.46,272.40 L50.49,271.64 L51.53,270.80 L52.57,269.89 L53.60,268.90 L54.64,267.83 L55.68,266.67 L56.71,265.42 L57.75,264.08 L58.78,262.65 L59.82,261.11 L60.86,259.48 L61.89,257.74 L62.93,255.90 L63.97,253.96 L65.00,251.92 L66.04,249.78 L67.08,247.54 L68.11,245.21 L69.15,242.79 L70.19,240.28 L71.22,237.71 L72.26,235.06 L73.29,232.36 L74.33,229.62 L75.37,226.84 L76.40,224.05 L77.44,221.25 L78.48,218.46 L79.51,215.70 L80.55,212.99 L81.59,210.34 L82.62,207.78 L83.66,205.33 L84.70,203.01 L85.73,200.83 L86.77,198.83 L87.81,197.01 L88.84,195.41 L89.88,194.04 L90.91,192.91 L91.95,192.05 L92.99,191.47 L94.02,191.19 L95.06,191.22 L96.10,191.56 L97.13,192.22 L98.17,193.21 L99.21,194.53 L100.24,196.17 L101.28,198.14 L102.32,200.41 L103.35,202.99 L104.39,205.85 L105.43,208.97 L106.46,212.34 L107.50,215.93 L108.53,219.70 L109.57,223.64 L110.61,227.70 L111.64,231.85 L112.68,236.05 L113.72,240.27 L114.75,244.46 L115.79,248.58 L116.83,252.60 L117.86,256.46 L118.90,260.14 L119.94,263.60 L120.97,266.79 L122.01,269.68 L123.04,272.25 L124.08,274.46 L125.12,276.29 L126.15,277.72 L127.19,278.72 L128.23,279.29 L129.26,279.42 L130.30,279.10 L131.34,278.33 L132.37,277.13 L133.41,275.49 L134.45,273.44 L135.48,270.98 L136.52,268.15 L137.56,264.97 L138.59,261.47 L139.63,257.69 L140.66,253.65 L141.70,249.40 L142.74,244.98 L143.77,240.42 L144.81,235.77 L145.85,231.07 L146.88,226.37 L147.92,221.70 L148.96,217.11 L149.99,212.63 L151.03,208.31 L152.07,204.17 L153.10,200.25 L154.14,196.58 L155.18,193.18 L156.21,190.08 L157.25,187.30 L158.28,184.86 L159.32,182.76 L160.36,181.01 L161.39,179.63 L162.43,178.61 L163.47,177.95 L164.50,177.65 L165.54,177.69 L166.58,178.08 L167.61,178.80 L168.65,179.82 L169.69,181.14 L170.72,182.74 L171.76,184.59 L172.79,186.68 L173.83,188.98 L174.87,191.46 L175.90,194.12 L176.94,196.92 L177.98,199.83 L179.01,202.85 L180.05,205.94 L181.09,209.09 L182.12,212.26 L183.16,215.46 L184.20,218.65 L185.23,221.82 L186.27,224.96 L187.31,228.05 L188.34,231.07 L189.38,234.02 L190.41,236.89 L191.45,239.67 L192.49,242.35 L193.52,244.92 L194.56,247.39 L195.60,249.74 L196.63,251.98 L197.67,254.10 L198.71,256.11 L199.74,258.00 L200.78,259.78 L201.82,261.45 L202.85,263.00 L203.89,264.46 L204.93,265.80 L205.96,267.05 L207.00,268.21 L208.03,269.28 L209.07,270.25 L210.11,271.15 L211.14,271.97 L212.18,272.72 L213.22,273.41 L214.25,274.03 L215.29,274.59 L216.33,275.10 L217.36,275.55 L218.40,275.96 L219.44,276.33 L220.47,276.67 L221.51,276.96 L222.54,277.22 L223.58,277.46 L224.62,277.67 L225.65,277.85 L226.69,278.01 L227.73,278.16 L228.76,278.28 L229.80,278.39 L230.84,278.49 L231.87,278.57 L232.91,278.65 L233.95,278.71 L234.98,278.77 L236.02,278.82 L237.06,278.86 L238.09,278.89 L239.13,278.92 L240.16,278.95 L241.20,278.97 L242.24,278.99 L243.27,279.01 L244.31,279.02 L245.35,279.04 L246.38,279.05 L247.42,279.06 L248.46,279.06 L249.49,279.07 L250.53,279.07 L251.57,279.08 L252.60,279.08 L253.64,279.09 L254.68,279.09" fill="none" stroke="#5b9bd5" stroke-width="1.35" stroke-linejoin="round" stroke-linecap="butt"/>
<path d="M5.93,279.09 L6.96,279.09 L8.00,279.08 L9.03,279.08 L10.07,279.07 L11.11,279.07 L12.14,279.06 L13.18,279.06 L14.22,279.05 L15.25,279.04 L16.29,279.02 L17.33,279.01 L18.36,278.99 L19.40,278.97 L20.44,278.95 L21.47,278.92 L22.51,278.89 L23.54,278.86 L24.58,278.82 L25.62,278.77 L26.65,278.71 L27.69,278.65 L28.73,278.57 L29.76,278.49 L30.80,278.39 L31.84,278.28 L32.87,278.16 L33.91,278.01 L34.95,277.85 L35.98,277.67 L37.02,277.46 L38.06,277.22 L39.09,276.96 L40.13,276.67 L41.16,276.33 L42.20,275.96 L43.24,275.55 L44.27,275.10 L45.31,274.59 L46.35,274.03 L47.38,273.41 L48.42,272.72 L49.46,271.97 L50.49,271.15 L51.53,270.25 L52.57,269.28 L53.60,268.21 L54.64,267.05 L55.68,265.80 L56.71,264.46 L57.75,263.00 L58.78,261.45 L59.82,259.78 L60.86,258.00 L61.89,256.11 L62.93,254.10 L63.97,251.98 L65.00,249.74 L66.04,247.39 L67.08,244.92 L68.11,242.35 L69.15,239.67 L70.19,236.89 L71.22,234.02 L72.26,231.07 L73.29,228.05 L74.33,224.96 L75.37,221.82 L76.40,218.65 L77.44,215.46 L78.48,212.26 L79.51,209.09 L80.55,205.94 L81.59,202.85 L82.62,199.83 L83.66,196.92 L84.70,194.12 L85.73,191.46 L86.77,188.98 L87.81,186.68 L88.84,184.59 L89.88,182.74 L90.91,181.14 L91.95,179.82 L92.99,178.80 L94.02,178.08 L95.06,177.69 L96.10,177.65 L97.13,177.95 L98.17,178.61 L99.21,179.63 L100.24,181.01 L101.28,182.76 L102.32,184.86 L103.35,187.30 L104.39,190.08 L105.43,193.18 L106.46,196.58 L107.50,200.25 L108.53,204.17 L109.57,208.31 L110.61,212.63 L111.64,217.11 L112.68,221.70 L113.72,226.37 L114.75,231.07 L115.79,235.77 L116.83,240.42 L117.86,244.98 L118.90,249.40 L119.94,253.65 L120.97,257.69 L122.01,261.47 L123.04,264.97 L124.08,268.15 L125.12,270.98 L126.15,273.44 L127.19,275.49 L128.23,277.13 L129.26,278.33 L130.30,279.10 L131.34,279.42 L132.37,279.29 L133.41,278.72 L134.45,277.72 L135.48,276.29 L136.52,274.46 L137.56,272.25 L138.59,269.68 L139.63,266.79 L140.66,263.60 L141.70,260.14 L142.74,256.46 L143.77,252.60 L144.81,248.58 L145.85,244.46 L146.88,240.27 L147.92,236.05 L148.96,231.85 L149.99,227.70 L151.03,223.64 L152.07,219.70 L153.10,215.93 L154.14,212.34 L155.18,208.97 L156.21,205.85 L157.25,202.99 L158.28,200.41 L159.32,198.14 L160.36,196.17 L161.39,194.53 L162.43,193.21 L163.47,192.22 L164.50,191.56 L165.54,191.22 L166.58,191.19 L167.61,191.47 L168.65,192.05 L169.69,192.91 L170.72,194.04 L171.76,195.41 L172.79,197.01 L173.83,198.83 L174.87,200.83 L175.90,203.01 L176.94,205.33 L177.98,207.78 L179.01,210.34 L180.05,212.99 L181.09,215.70 L182.12,218.46 L183.16,221.25 L184.20,224.05 L185.23,226.84 L186.27,229.62 L187.31,232.36 L188.34,235.06 L189.38,237.71 L190.41,240.28 L191.45,242.79 L192.49,245.21 L193.52,247.54 L194.56,249.78 L195.60,251.92 L196.63,253.96 L197.67,255.90 L198.71,257.74 L199.74,259.48 L200.78,261.11 L201.82,262.65 L202.85,264.08 L203.89,265.42 L204.93,266.67 L205.96,267.83 L207.00,268.90 L208.03,269.89 L209.07,270.80 L210.11,271.64 L211.14,272.40 L212.18,273.10 L213.22,273.74 L214.25,274.32 L215.29,274.85 L216.33,275.32 L217.36,275.75 L218.40,276.14 L219.44,276.49 L220.47,276.80 L221.51,277.08 L222.54,277.32 L223.58,277.54 L224.62,277.74 L225.65,277.91 L226.69,278.07 L227.73,278.20 L228.76,278.32 L229.80,278.43 L230.84,278.52 L231.87,278.60 L232.91,278.67 L233.95,278.73 L234.98,278.78 L236.02,278.83 L237.06,278.87 L238.09,278.90 L239.13,278.93 L240.16,278.96 L241.20,278.98 L242.24,279.00 L243.27,279.01 L244.31,279.03 L245.35,279.04 L246.38,279.05 L247.42,279.06 L248.46,279.06 L249.49,279.07 L250.53,279.08 L251.57,279.08 L252.60,279.08 L253.64,279.09 L254.68,279.09" fill="none" stroke="#c00000" stroke-width="1.35" stroke-linejoin="round" stroke-linecap="butt"/>
<line x1="305.52" y1="278.40" x2="549.27" y2="278.40" stroke="#404040" stroke-width="1.25"/>
<line x1="427.40" y1="175.70" x2="427.40" y2="283.70" stroke="#404040" stroke-width="1.25"/>
<path d="M425.00,179.60 L427.40,176.30 L429.80,179.60" fill="none" stroke="#222" stroke-width="1.2" stroke-linejoin="miter"/>
<text x="422.20" y="182.16" font-family='"Liberation Sans", sans-serif' font-size="5.00" text-anchor="end" font-weight="normal" font-style="normal" fill="#111" stroke="#111" stroke-width="0.12">570</text>
<text x="422.20" y="199.36" font-family='"Liberation Sans", sans-serif' font-size="5.00" text-anchor="end" font-weight="normal" font-style="normal" fill="#111" stroke="#111" stroke-width="0.12">470</text>
<text x="422.20" y="216.56" font-family='"Liberation Sans", sans-serif' font-size="5.00" text-anchor="end" font-weight="normal" font-style="normal" fill="#111" stroke="#111" stroke-width="0.12">370</text>
<text x="422.20" y="233.76" font-family='"Liberation Sans", sans-serif' font-size="5.00" text-anchor="end" font-weight="normal" font-style="normal" fill="#111" stroke="#111" stroke-width="0.12">270</text>
<text x="422.20" y="250.96" font-family='"Liberation Sans", sans-serif' font-size="5.00" text-anchor="end" font-weight="normal" font-style="normal" fill="#111" stroke="#111" stroke-width="0.12">170</text>
<text x="422.20" y="268.16" font-family='"Liberation Sans", sans-serif' font-size="5.00" text-anchor="end" font-weight="normal" font-style="normal" fill="#111" stroke="#111" stroke-width="0.12">70</text>
<text x="422.20" y="285.36" font-family='"Liberation Sans", sans-serif' font-size="5.00" text-anchor="end" font-weight="normal" font-style="normal" fill="#111" stroke="#111" stroke-width="0.12">-30</text>
<text x="305.52" y="287.80" font-family='"Liberation Serif", serif' font-size="5.60" text-anchor="middle" font-weight="normal" font-style="normal" fill="#000" stroke="#000" stroke-width="0.12">-2.5</text>
<text x="329.90" y="287.80" font-family='"Liberation Serif", serif' font-size="5.60" text-anchor="middle" font-weight="normal" font-style="normal" fill="#000" stroke="#000" stroke-width="0.12">-2</text>
<text x="354.27" y="287.80" font-family='"Liberation Serif", serif' font-size="5.60" text-anchor="middle" font-weight="normal" font-style="normal" fill="#000" stroke="#000" stroke-width="0.12">-1.5</text>
<text x="378.65" y="287.80" font-family='"Liberation Serif", serif' font-size="5.60" text-anchor="middle" font-weight="normal" font-style="normal" fill="#000" stroke="#000" stroke-width="0.12">-1</text>
<text x="403.02" y="287.80" font-family='"Liberation Serif", serif' font-size="5.60" text-anchor="middle" font-weight="normal" font-style="normal" fill="#000" stroke="#000" stroke-width="0.12">-0.5</text>
<text x="427.40" y="287.80" font-family='"Liberation Serif", serif' font-size="5.60" text-anchor="middle" font-weight="normal" font-style="normal" fill="#000" stroke="#000" stroke-width="0.12">0</text>
<text x="451.77" y="287.80" font-family='"Liberation Serif", serif' font-size="5.60" text-anchor="middle" font-weight="normal" font-style="normal" fill="#000" stroke="#000" stroke-width="0.12">0.5</text>
<text x="476.15" y="287.80" font-family='"Liberation Serif", serif' font-size="5.60" text-anchor="middle" font-weight="normal" font-style="normal" fill="#000" stroke="#000" stroke-width="0.12">1</text>
<text x="500.52" y="287.80" font-family='"Liberation Serif", serif' font-size="5.60" text-anchor="middle" font-weight="normal" font-style="normal" fill="#000" stroke="#000" stroke-width="0.12">1.5</text>
<text x="524.90" y="287.80" font-family='"Liberation Serif", serif' font-size="5.60" text-anchor="middle" font-weight="normal" font-style="normal" fill="#000" stroke="#000" stroke-width="0.12">2</text>
<text x="549.27" y="287.80" font-family='"Liberation Serif", serif' font-size="5.60" text-anchor="middle" font-weight="normal" font-style="normal" fill="#000" stroke="#000" stroke-width="0.12">2.5</text>
<path d="M305.52,278.30 L306.54,278.28 L307.56,278.26 L308.57,278.23 L309.59,278.20 L310.60,278.17 L311.62,278.12 L312.63,278.08 L313.65,278.02 L314.67,277.95 L315.68,277.88 L316.70,277.79 L317.71,277.69 L318.73,277.58 L319.74,277.45 L320.76,277.30 L321.77,277.13 L322.79,276.94 L323.81,276.72 L324.82,276.48 L325.84,276.20 L326.85,275.89 L327.87,275.54 L328.88,275.14 L329.90,274.71 L330.92,274.22 L331.93,273.68 L332.95,273.08 L333.96,272.42 L334.98,271.69 L335.99,270.88 L337.01,270.00 L338.02,269.04 L339.04,267.99 L340.06,266.86 L341.07,265.62 L342.09,264.28 L343.10,262.85 L344.12,261.30 L345.13,259.64 L346.15,257.88 L347.17,256.00 L348.18,254.00 L349.20,251.89 L350.21,249.67 L351.23,247.33 L352.24,244.89 L353.26,242.35 L354.27,239.71 L355.29,236.98 L356.31,234.17 L357.32,231.28 L358.34,228.34 L359.35,225.36 L360.37,222.34 L361.38,219.31 L362.40,216.29 L363.42,213.28 L364.43,210.32 L365.45,207.42 L366.46,204.60 L367.48,201.89 L368.49,199.31 L369.51,196.88 L370.52,194.62 L371.54,192.56 L372.56,190.72 L373.57,189.12 L374.59,187.77 L375.60,186.70 L376.62,185.93 L377.63,185.45 L378.65,185.29 L379.67,185.45 L380.68,185.94 L381.70,186.76 L382.71,187.91 L383.73,189.39 L384.74,191.18 L385.76,193.28 L386.77,195.67 L387.79,198.33 L388.81,201.24 L389.82,204.38 L390.84,207.73 L391.85,211.24 L392.87,214.91 L393.88,218.68 L394.90,222.53 L395.92,226.43 L396.93,230.34 L397.95,234.23 L398.96,238.06 L399.98,241.82 L400.99,245.46 L402.01,248.97 L403.02,252.32 L404.04,255.49 L405.06,258.45 L406.07,261.21 L407.09,263.75 L408.10,266.05 L409.12,268.13 L410.13,269.98 L411.15,271.60 L412.17,273.00 L413.18,274.20 L414.20,275.20 L415.21,276.03 L416.23,276.69 L417.24,277.21 L418.26,277.61 L419.27,277.90 L420.29,278.10 L421.31,278.24 L422.32,278.32 L423.34,278.37 L424.35,278.39 L425.37,278.40 L426.38,278.40 L427.40,278.40 L428.42,278.40 L429.43,278.40 L430.45,278.39 L431.46,278.37 L432.48,278.32 L433.49,278.24 L434.51,278.10 L435.52,277.90 L436.54,277.61 L437.56,277.21 L438.57,276.69 L439.59,276.03 L440.60,275.20 L441.62,274.20 L442.63,273.00 L443.65,271.60 L444.67,269.98 L445.68,268.13 L446.70,266.05 L447.71,263.75 L448.73,261.21 L449.74,258.45 L450.76,255.49 L451.77,252.32 L452.79,248.97 L453.81,245.46 L454.82,241.82 L455.84,238.06 L456.85,234.23 L457.87,230.34 L458.88,226.43 L459.90,222.53 L460.92,218.68 L461.93,214.91 L462.95,211.24 L463.96,207.73 L464.98,204.38 L465.99,201.24 L467.01,198.33 L468.02,195.67 L469.04,193.28 L470.06,191.18 L471.07,189.39 L472.09,187.91 L473.10,186.76 L474.12,185.94 L475.13,185.45 L476.15,185.29 L477.17,185.45 L478.18,185.93 L479.20,186.70 L480.21,187.77 L481.23,189.12 L482.24,190.72 L483.26,192.56 L484.27,194.62 L485.29,196.88 L486.31,199.31 L487.32,201.89 L488.34,204.60 L489.35,207.42 L490.37,210.32 L491.38,213.28 L492.40,216.29 L493.42,219.31 L494.43,222.34 L495.45,225.36 L496.46,228.34 L497.48,231.28 L498.49,234.17 L499.51,236.98 L500.52,239.71 L501.54,242.35 L502.56,244.89 L503.57,247.33 L504.59,249.67 L505.60,251.89 L506.62,254.00 L507.63,256.00 L508.65,257.88 L509.67,259.64 L510.68,261.30 L511.70,262.85 L512.71,264.28 L513.73,265.62 L514.74,266.86 L515.76,267.99 L516.77,269.04 L517.79,270.00 L518.81,270.88 L519.82,271.69 L520.84,272.42 L521.85,273.08 L522.87,273.68 L523.88,274.22 L524.90,274.71 L525.92,275.14 L526.93,275.54 L527.95,275.89 L528.96,276.20 L529.98,276.48 L530.99,276.72 L532.01,276.94 L533.02,277.13 L534.04,277.30 L535.06,277.45 L536.07,277.58 L537.09,277.69 L538.10,277.79 L539.12,277.88 L540.13,277.95 L541.15,278.02 L542.17,278.08 L543.18,278.12 L544.20,278.17 L545.21,278.20 L546.23,278.23 L547.24,278.26 L548.26,278.28 L549.27,278.30" fill="none" stroke="#7030a0" stroke-width="1.35" stroke-linejoin="round" stroke-linecap="butt"/>
<path d="M305.52,278.40 L306.54,278.40 L307.56,278.40 L308.57,278.40 L309.59,278.40 L310.60,278.40 L311.62,278.41 L312.63,278.41 L313.65,278.41 L314.67,278.41 L315.68,278.41 L316.70,278.41 L317.71,278.42 L318.73,278.42 L319.74,278.42 L320.76,278.43 L321.77,278.43 L322.79,278.43 L323.81,278.44 L324.82,278.45 L325.84,278.45 L326.85,278.46 L327.87,278.47 L328.88,278.48 L329.90,278.49 L330.92,278.51 L331.93,278.52 L332.95,278.54 L333.96,278.56 L334.98,278.58 L335.99,278.60 L337.01,278.63 L338.02,278.66 L339.04,278.69 L340.06,278.72 L341.07,278.76 L342.09,278.80 L343.10,278.85 L344.12,278.90 L345.13,278.96 L346.15,279.02 L347.17,279.08 L348.18,279.15 L349.20,279.23 L350.21,279.31 L351.23,279.39 L352.24,279.49 L353.26,279.59 L354.27,279.69 L355.29,279.80 L356.31,279.92 L357.32,280.04 L358.34,280.17 L359.35,280.30 L360.37,280.44 L361.38,280.58 L362.40,280.73 L363.42,280.88 L364.43,281.04 L365.45,281.19 L366.46,281.35 L367.48,281.51 L368.49,281.67 L369.51,281.83 L370.52,281.99 L371.54,282.15 L372.56,282.30 L373.57,282.44 L374.59,282.58 L375.60,282.72 L376.62,282.84 L377.63,282.95 L378.65,283.06 L379.67,283.15 L380.68,283.22 L381.70,283.29 L382.71,283.34 L383.73,283.37 L384.74,283.38 L385.76,283.38 L386.77,283.36 L387.79,283.33 L388.81,283.27 L389.82,283.20 L390.84,283.11 L391.85,283.00 L392.87,282.88 L393.88,282.74 L394.90,282.59 L395.92,282.42 L396.93,282.25 L397.95,282.06 L398.96,281.86 L399.98,281.65 L400.99,281.44 L402.01,281.23 L403.02,281.01 L404.04,280.79 L405.06,280.58 L406.07,280.36 L407.09,280.16 L408.10,279.96 L409.12,279.77 L410.13,279.59 L411.15,279.42 L412.17,279.26 L413.18,279.12 L414.20,278.99 L415.21,278.87 L416.23,278.77 L417.24,278.69 L418.26,278.61 L419.27,278.55 L420.29,278.50 L421.31,278.47 L422.32,278.44 L423.34,278.42 L424.35,278.41 L425.37,278.40 L426.38,278.40 L427.40,278.40 L428.42,278.40 L429.43,278.40 L430.45,278.39 L431.46,278.38 L432.48,278.36 L433.49,278.33 L434.51,278.30 L435.52,278.25 L436.54,278.19 L437.56,278.11 L438.57,278.03 L439.59,277.93 L440.60,277.81 L441.62,277.68 L442.63,277.54 L443.65,277.38 L444.67,277.21 L445.68,277.03 L446.70,276.84 L447.71,276.64 L448.73,276.44 L449.74,276.22 L450.76,276.01 L451.77,275.79 L452.79,275.57 L453.81,275.36 L454.82,275.15 L455.84,274.94 L456.85,274.74 L457.87,274.55 L458.88,274.38 L459.90,274.21 L460.92,274.06 L461.93,273.92 L462.95,273.80 L463.96,273.69 L464.98,273.60 L465.99,273.53 L467.01,273.47 L468.02,273.44 L469.04,273.42 L470.06,273.42 L471.07,273.43 L472.09,273.46 L473.10,273.51 L474.12,273.58 L475.13,273.65 L476.15,273.74 L477.17,273.85 L478.18,273.96 L479.20,274.08 L480.21,274.22 L481.23,274.36 L482.24,274.50 L483.26,274.65 L484.27,274.81 L485.29,274.97 L486.31,275.13 L487.32,275.29 L488.34,275.45 L489.35,275.61 L490.37,275.76 L491.38,275.92 L492.40,276.07 L493.42,276.22 L494.43,276.36 L495.45,276.50 L496.46,276.63 L497.48,276.76 L498.49,276.88 L499.51,277.00 L500.52,277.11 L501.54,277.21 L502.56,277.31 L503.57,277.41 L504.59,277.49 L505.60,277.57 L506.62,277.65 L507.63,277.72 L508.65,277.78 L509.67,277.84 L510.68,277.90 L511.70,277.95 L512.71,278.00 L513.73,278.04 L514.74,278.08 L515.76,278.11 L516.77,278.14 L517.79,278.17 L518.81,278.20 L519.82,278.22 L520.84,278.24 L521.85,278.26 L522.87,278.28 L523.88,278.29 L524.90,278.31 L525.92,278.32 L526.93,278.33 L527.95,278.34 L528.96,278.35 L529.98,278.35 L530.99,278.36 L532.01,278.37 L533.02,278.37 L534.04,278.37 L535.06,278.38 L536.07,278.38 L537.09,278.38 L538.10,278.39 L539.12,278.39 L540.13,278.39 L541.15,278.39 L542.17,278.39 L543.18,278.39 L544.20,278.40 L545.21,278.40 L546.23,278.40 L547.24,278.40 L548.26,278.40 L549.27,278.40" fill="none" stroke="#00b050" stroke-width="1.2825" stroke-linejoin="round" stroke-linecap="butt" stroke-dasharray="1.8,1.1"/>
<path d="M305.52,278.30 L306.54,278.28 L307.56,278.26 L308.57,278.24 L309.59,278.21 L310.60,278.17 L311.62,278.13 L312.63,278.08 L313.65,278.03 L314.67,277.96 L315.68,277.89 L316.70,277.81 L317.71,277.71 L318.73,277.60 L319.74,277.47 L320.76,277.33 L321.77,277.16 L322.79,276.97 L323.81,276.76 L324.82,276.52 L325.84,276.25 L326.85,275.95 L327.87,275.61 L328.88,275.23 L329.90,274.80 L330.92,274.33 L331.93,273.80 L332.95,273.22 L333.96,272.57 L334.98,271.86 L335.99,271.08 L337.01,270.23 L338.02,269.30 L339.04,268.28 L340.06,267.18 L341.07,265.98 L342.09,264.69 L343.10,263.30 L344.12,261.80 L345.13,260.20 L346.15,258.49 L347.17,256.68 L348.18,254.75 L349.20,252.72 L350.21,250.57 L351.23,248.33 L352.24,245.98 L353.26,243.53 L354.27,241.00 L355.29,238.38 L356.31,235.68 L357.32,232.92 L358.34,230.11 L359.35,227.26 L360.37,224.38 L361.38,221.50 L362.40,218.62 L363.42,215.76 L364.43,212.95 L365.45,210.21 L366.46,207.55 L367.48,205.00 L368.49,202.58 L369.51,200.31 L370.52,198.21 L371.54,196.31 L372.56,194.62 L373.57,193.16 L374.59,191.96 L375.60,191.02 L376.62,190.36 L377.63,190.00 L378.65,189.94 L379.67,190.20 L380.68,190.77 L381.70,191.65 L382.71,192.85 L383.73,194.36 L384.74,196.17 L385.76,198.26 L386.77,200.63 L387.79,203.26 L388.81,206.11 L389.82,209.18 L390.84,212.44 L391.85,215.85 L392.87,219.39 L393.88,223.02 L394.90,226.72 L395.92,230.45 L396.93,234.18 L397.95,237.88 L398.96,241.52 L399.98,245.07 L400.99,248.50 L402.01,251.80 L403.02,254.93 L404.04,257.88 L405.06,260.63 L406.07,263.18 L407.09,265.50 L408.10,267.61 L409.12,269.50 L410.13,271.17 L411.15,272.62 L412.17,273.87 L413.18,274.92 L414.20,275.79 L415.21,276.50 L416.23,277.06 L417.24,277.50 L418.26,277.82 L419.27,278.05 L420.29,278.20 L421.31,278.30 L422.32,278.36 L423.34,278.39 L424.35,278.40 L425.37,278.40 L426.38,278.40 L427.40,278.40 L428.42,278.40 L429.43,278.40 L430.45,278.38 L431.46,278.35 L432.48,278.28 L433.49,278.17 L434.51,278.00 L435.52,277.75 L436.54,277.40 L437.56,276.93 L438.57,276.32 L439.59,275.55 L440.60,274.61 L441.62,273.48 L442.63,272.14 L443.65,270.58 L444.67,268.79 L445.68,266.76 L446.70,264.49 L447.71,261.99 L448.73,259.25 L449.74,256.28 L450.76,253.09 L451.77,249.71 L452.79,246.15 L453.81,242.42 L454.82,238.57 L455.84,234.61 L456.85,230.57 L457.87,226.49 L458.88,222.40 L459.90,218.34 L460.92,214.33 L461.93,210.42 L462.95,206.64 L463.96,203.02 L464.98,199.58 L465.99,196.37 L467.01,193.40 L468.02,190.70 L469.04,188.30 L470.06,186.20 L471.07,184.42 L472.09,182.98 L473.10,181.88 L474.12,181.12 L475.13,180.71 L476.15,180.63 L477.17,180.90 L478.18,181.49 L479.20,182.39 L480.21,183.59 L481.23,185.08 L482.24,186.83 L483.26,188.82 L484.27,191.03 L485.29,193.45 L486.31,196.03 L487.32,198.78 L488.34,201.65 L489.35,204.62 L490.37,207.68 L491.38,210.80 L492.40,213.96 L493.42,217.13 L494.43,220.31 L495.45,223.46 L496.46,226.58 L497.48,229.65 L498.49,232.65 L499.51,235.58 L500.52,238.42 L501.54,241.16 L502.56,243.81 L503.57,246.34 L504.59,248.76 L505.60,251.06 L506.62,253.25 L507.63,255.32 L508.65,257.26 L509.67,259.09 L510.68,260.80 L511.70,262.40 L512.71,263.88 L513.73,265.26 L514.74,266.53 L515.76,267.71 L516.77,268.79 L517.79,269.78 L518.81,270.68 L519.82,271.51 L520.84,272.26 L521.85,272.94 L522.87,273.56 L523.88,274.11 L524.90,274.61 L525.92,275.06 L526.93,275.47 L527.95,275.83 L528.96,276.15 L529.98,276.43 L530.99,276.68 L532.01,276.91 L533.02,277.10 L534.04,277.28 L535.06,277.43 L536.07,277.56 L537.09,277.68 L538.10,277.78 L539.12,277.87 L540.13,277.94 L541.15,278.01 L542.17,278.07 L543.18,278.12 L544.20,278.16 L545.21,278.20 L546.23,278.23 L547.24,278.26 L548.26,278.28 L549.27,278.30" fill="none" stroke="#5b9bd5" stroke-width="1.35" stroke-linejoin="round" stroke-linecap="butt"/>
<path d="M305.52,278.30 L306.54,278.28 L307.56,278.26 L308.57,278.23 L309.59,278.20 L310.60,278.16 L311.62,278.12 L312.63,278.07 L313.65,278.01 L314.67,277.94 L315.68,277.87 L316.70,277.78 L317.71,277.68 L318.73,277.56 L319.74,277.43 L320.76,277.28 L321.77,277.10 L322.79,276.91 L323.81,276.68 L324.82,276.43 L325.84,276.15 L326.85,275.83 L327.87,275.47 L328.88,275.06 L329.90,274.61 L330.92,274.11 L331.93,273.56 L332.95,272.94 L333.96,272.26 L334.98,271.51 L335.99,270.68 L337.01,269.78 L338.02,268.79 L339.04,267.71 L340.06,266.53 L341.07,265.26 L342.09,263.88 L343.10,262.40 L344.12,260.80 L345.13,259.09 L346.15,257.26 L347.17,255.32 L348.18,253.25 L349.20,251.06 L350.21,248.76 L351.23,246.34 L352.24,243.81 L353.26,241.16 L354.27,238.42 L355.29,235.58 L356.31,232.65 L357.32,229.65 L358.34,226.58 L359.35,223.46 L360.37,220.31 L361.38,217.13 L362.40,213.96 L363.42,210.80 L364.43,207.68 L365.45,204.62 L366.46,201.65 L367.48,198.78 L368.49,196.03 L369.51,193.45 L370.52,191.03 L371.54,188.82 L372.56,186.83 L373.57,185.08 L374.59,183.59 L375.60,182.39 L376.62,181.49 L377.63,180.90 L378.65,180.63 L379.67,180.71 L380.68,181.12 L381.70,181.88 L382.71,182.98 L383.73,184.42 L384.74,186.20 L385.76,188.30 L386.77,190.70 L387.79,193.40 L388.81,196.37 L389.82,199.58 L390.84,203.02 L391.85,206.64 L392.87,210.42 L393.88,214.33 L394.90,218.34 L395.92,222.40 L396.93,226.49 L397.95,230.57 L398.96,234.61 L399.98,238.57 L400.99,242.42 L402.01,246.15 L403.02,249.71 L404.04,253.09 L405.06,256.28 L406.07,259.25 L407.09,261.99 L408.10,264.49 L409.12,266.76 L410.13,268.79 L411.15,270.58 L412.17,272.14 L413.18,273.48 L414.20,274.61 L415.21,275.55 L416.23,276.32 L417.24,276.93 L418.26,277.40 L419.27,277.75 L420.29,278.00 L421.31,278.17 L422.32,278.28 L423.34,278.35 L424.35,278.38 L425.37,278.40 L426.38,278.40 L427.40,278.40 L428.42,278.40 L429.43,278.40 L430.45,278.40 L431.46,278.39 L432.48,278.36 L433.49,278.30 L434.51,278.20 L435.52,278.05 L436.54,277.82 L437.56,277.50 L438.57,277.06 L439.59,276.50 L440.60,275.79 L441.62,274.92 L442.63,273.87 L443.65,272.62 L444.67,271.17 L445.68,269.50 L446.70,267.61 L447.71,265.50 L448.73,263.18 L449.74,260.63 L450.76,257.88 L451.77,254.93 L452.79,251.80 L453.81,248.50 L454.82,245.07 L455.84,241.52 L456.85,237.88 L457.87,234.18 L458.88,230.45 L459.90,226.72 L460.92,223.02 L461.93,219.39 L462.95,215.85 L463.96,212.44 L464.98,209.18 L465.99,206.11 L467.01,203.26 L468.02,200.63 L469.04,198.26 L470.06,196.17 L471.07,194.36 L472.09,192.85 L473.10,191.65 L474.12,190.77 L475.13,190.20 L476.15,189.94 L477.17,190.00 L478.18,190.36 L479.20,191.02 L480.21,191.96 L481.23,193.16 L482.24,194.62 L483.26,196.31 L484.27,198.21 L485.29,200.31 L486.31,202.58 L487.32,205.00 L488.34,207.55 L489.35,210.21 L490.37,212.95 L491.38,215.76 L492.40,218.62 L493.42,221.50 L494.43,224.38 L495.45,227.26 L496.46,230.11 L497.48,232.92 L498.49,235.68 L499.51,238.38 L500.52,241.00 L501.54,243.53 L502.56,245.98 L503.57,248.33 L504.59,250.57 L505.60,252.72 L506.62,254.75 L507.63,256.68 L508.65,258.49 L509.67,260.20 L510.68,261.80 L511.70,263.30 L512.71,264.69 L513.73,265.98 L514.74,267.18 L515.76,268.28 L516.77,269.30 L517.79,270.23 L518.81,271.08 L519.82,271.86 L520.84,272.57 L521.85,273.22 L522.87,273.80 L523.88,274.33 L524.90,274.80 L525.92,275.23 L526.93,275.61 L527.95,275.95 L528.96,276.25 L529.98,276.52 L530.99,276.76 L532.01,276.97 L533.02,277.16 L534.04,277.33 L535.06,277.47 L536.07,277.60 L537.09,277.71 L538.10,277.81 L539.12,277.89 L540.13,277.96 L541.15,278.03 L542.17,278.08 L543.18,278.13 L544.20,278.17 L545.21,278.21 L546.23,278.24 L547.24,278.26 L548.26,278.28 L549.27,278.30" fill="none" stroke="#c00000" stroke-width="1.35" stroke-linejoin="round" stroke-linecap="butt"/>
<line x1="198.00" y1="12.90" x2="214.30" y2="12.90" stroke="#7030a0" stroke-width="1.7"/>
<text x="217.64" y="11.00" font-family='"Liberation Sans", sans-serif' font-size="6.10" text-anchor="start" font-weight="normal" font-style="normal" fill="#1c1c1c" textLength="47.52" lengthAdjust="spacingAndGlyphs" stroke="#1c1c1c" stroke-width="0.08">Longitudinal phase</text>
<text x="217.85" y="18.40" font-family='"Liberation Sans", sans-serif' font-size="6.10" text-anchor="start" font-weight="normal" font-style="normal" fill="#1c1c1c" textLength="54.14" lengthAdjust="spacingAndGlyphs" stroke="#1c1c1c" stroke-width="0.08">gradient contribution</text>
<text x="272.21" y="19.20" font-family='"Liberation Sans", sans-serif' font-size="6.10" text-anchor="start" font-weight="normal" font-style="normal" fill="#1c1c1c" textLength="2.88" lengthAdjust="spacingAndGlyphs" stroke="#1c1c1c" stroke-width="0.08">|</text>
<text x="275.13" y="18.40" font-family='"Liberation Sans", sans-serif' font-size="6.10" text-anchor="start" font-weight="normal" font-style="italic" fill="#1c1c1c" textLength="2.61" lengthAdjust="spacingAndGlyphs" stroke="#1c1c1c" stroke-width="0.08">&#8467;</text>
<text x="278.01" y="19.20" font-family='"Liberation Sans", sans-serif' font-size="6.10" text-anchor="start" font-weight="normal" font-style="normal" fill="#1c1c1c" textLength="2.88" lengthAdjust="spacingAndGlyphs" stroke="#1c1c1c" stroke-width="0.08">|</text>
<text x="281.86" y="18.40" font-family='"Liberation Sans", sans-serif' font-size="6.10" text-anchor="start" font-weight="normal" font-style="normal" fill="#1c1c1c" textLength="4.09" lengthAdjust="spacingAndGlyphs" stroke="#1c1c1c" stroke-width="0.08">=</text>
<text x="288.72" y="18.40" font-family='"Liberation Sans", sans-serif' font-size="6.10" text-anchor="start" font-weight="normal" font-style="normal" fill="#1c1c1c" textLength="2.06" lengthAdjust="spacingAndGlyphs" stroke="#1c1c1c" stroke-width="0.08">1</text>
<line x1="198.00" y1="32.40" x2="214.30" y2="32.40" stroke="#00b050" stroke-width="1.7" stroke-dasharray="1.8,1.1"/>
<text x="217.74" y="31.40" font-family='"Liberation Sans", sans-serif' font-size="6.10" text-anchor="start" font-weight="normal" font-style="normal" fill="#1c1c1c" textLength="34.01" lengthAdjust="spacingAndGlyphs" stroke="#1c1c1c" stroke-width="0.08">Helical-phase</text>
<text x="217.85" y="38.30" font-family='"Liberation Sans", sans-serif' font-size="6.10" text-anchor="start" font-weight="normal" font-style="normal" fill="#1c1c1c" textLength="54.14" lengthAdjust="spacingAndGlyphs" stroke="#1c1c1c" stroke-width="0.08">gradient contribution</text>
<text x="272.21" y="39.10" font-family='"Liberation Sans", sans-serif' font-size="6.10" text-anchor="start" font-weight="normal" font-style="normal" fill="#1c1c1c" textLength="2.88" lengthAdjust="spacingAndGlyphs" stroke="#1c1c1c" stroke-width="0.08">|</text>
<text x="275.13" y="38.30" font-family='"Liberation Sans", sans-serif' font-size="6.10" text-anchor="start" font-weight="normal" font-style="italic" fill="#1c1c1c" textLength="2.61" lengthAdjust="spacingAndGlyphs" stroke="#1c1c1c" stroke-width="0.08">&#8467;</text>
<text x="278.01" y="39.10" font-family='"Liberation Sans", sans-serif' font-size="6.10" text-anchor="start" font-weight="normal" font-style="normal" fill="#1c1c1c" textLength="2.88" lengthAdjust="spacingAndGlyphs" stroke="#1c1c1c" stroke-width="0.08">|</text>
<text x="281.86" y="38.30" font-family='"Liberation Sans", sans-serif' font-size="6.10" text-anchor="start" font-weight="normal" font-style="normal" fill="#1c1c1c" textLength="4.09" lengthAdjust="spacingAndGlyphs" stroke="#1c1c1c" stroke-width="0.08">=</text>
<text x="288.72" y="38.30" font-family='"Liberation Sans", sans-serif' font-size="6.10" text-anchor="start" font-weight="normal" font-style="normal" fill="#1c1c1c" textLength="2.06" lengthAdjust="spacingAndGlyphs" stroke="#1c1c1c" stroke-width="0.08">1</text>
<line x1="198.00" y1="51.10" x2="214.30" y2="51.10" stroke="#5b9bd5" stroke-width="1.7"/>
<text x="219.37" y="53.70" font-family='"Liberation Sans", sans-serif' font-size="6.10" text-anchor="start" font-weight="normal" font-style="normal" fill="#1c1c1c" textLength="20.62" lengthAdjust="spacingAndGlyphs" stroke="#1c1c1c" stroke-width="0.08">Total for</text>
<text x="241.86" y="53.70" font-family='"Liberation Sans", sans-serif' font-size="6.10" text-anchor="start" font-weight="normal" font-style="italic" fill="#1c1c1c" textLength="2.83" lengthAdjust="spacingAndGlyphs" stroke="#1c1c1c" stroke-width="0.08">&#8467;</text>
<text x="247.60" y="53.70" font-family='"Liberation Sans", sans-serif' font-size="6.10" text-anchor="start" font-weight="normal" font-style="normal" fill="#1c1c1c" textLength="4.81" lengthAdjust="spacingAndGlyphs" stroke="#1c1c1c" stroke-width="0.08">=</text>
<text x="254.29" y="53.70" font-family='"Liberation Sans", sans-serif' font-size="6.10" text-anchor="start" font-weight="normal" font-style="normal" fill="#1c1c1c" textLength="7.33" lengthAdjust="spacingAndGlyphs" stroke="#1c1c1c" stroke-width="0.08">+1</text>
<line x1="198.00" y1="70.00" x2="214.30" y2="70.00" stroke="#c00000" stroke-width="1.7"/>
<text x="219.37" y="72.70" font-family='"Liberation Sans", sans-serif' font-size="6.10" text-anchor="start" font-weight="normal" font-style="normal" fill="#1c1c1c" textLength="20.62" lengthAdjust="spacingAndGlyphs" stroke="#1c1c1c" stroke-width="0.08">Total for</text>
<text x="241.86" y="72.70" font-family='"Liberation Sans", sans-serif' font-size="6.10" text-anchor="start" font-weight="normal" font-style="italic" fill="#1c1c1c" textLength="2.83" lengthAdjust="spacingAndGlyphs" stroke="#1c1c1c" stroke-width="0.08">&#8467;</text>
<text x="247.49" y="72.70" font-family='"Liberation Sans", sans-serif' font-size="6.10" text-anchor="start" font-weight="normal" font-style="normal" fill="#1c1c1c" textLength="4.93" lengthAdjust="spacingAndGlyphs" stroke="#1c1c1c" stroke-width="0.08">=</text>
<text x="253.86" y="72.70" font-family='"Liberation Sans", sans-serif' font-size="6.10" text-anchor="start" font-weight="normal" font-style="normal" fill="#1c1c1c" textLength="7.88" lengthAdjust="spacingAndGlyphs" stroke="#1c1c1c" stroke-width="0.08">&#8722;1</text>
<line x1="484.90" y1="8.00" x2="501.90" y2="8.00" stroke="#7030a0" stroke-width="1.3"/>
<text x="504.64" y="5.90" font-family='"Liberation Sans", sans-serif' font-size="6.10" text-anchor="start" font-weight="normal" font-style="normal" fill="#1c1c1c" textLength="47.52" lengthAdjust="spacingAndGlyphs" stroke="#1c1c1c" stroke-width="0.08">Longitudinal phase</text>
<text x="504.85" y="13.20" font-family='"Liberation Sans", sans-serif' font-size="6.10" text-anchor="start" font-weight="normal" font-style="normal" fill="#1c1c1c" textLength="54.14" lengthAdjust="spacingAndGlyphs" stroke="#1c1c1c" stroke-width="0.08">gradient contribution</text>
<text x="558.91" y="14.00" font-family='"Liberation Sans", sans-serif' font-size="6.10" text-anchor="start" font-weight="normal" font-style="normal" fill="#1c1c1c" textLength="2.88" lengthAdjust="spacingAndGlyphs" stroke="#1c1c1c" stroke-width="0.08">|</text>
<text x="561.86" y="13.20" font-family='"Liberation Sans", sans-serif' font-size="6.10" text-anchor="start" font-weight="normal" font-style="italic" fill="#1c1c1c" textLength="2.65" lengthAdjust="spacingAndGlyphs" stroke="#1c1c1c" stroke-width="0.08">&#8467;</text>
<text x="564.81" y="14.00" font-family='"Liberation Sans", sans-serif' font-size="6.10" text-anchor="start" font-weight="normal" font-style="normal" fill="#1c1c1c" textLength="2.88" lengthAdjust="spacingAndGlyphs" stroke="#1c1c1c" stroke-width="0.08">|</text>
<text x="568.66" y="13.20" font-family='"Liberation Sans", sans-serif' font-size="6.10" text-anchor="start" font-weight="normal" font-style="normal" fill="#1c1c1c" textLength="8.00" lengthAdjust="spacingAndGlyphs" stroke="#1c1c1c" stroke-width="0.08">=2</text>
<line x1="484.90" y1="26.30" x2="501.90" y2="26.30" stroke="#00b050" stroke-width="1.6" stroke-dasharray="1.8,1.1"/>
<text x="504.64" y="23.30" font-family='"Liberation Sans", sans-serif' font-size="6.10" text-anchor="start" font-weight="normal" font-style="normal" fill="#1c1c1c" textLength="33.71" lengthAdjust="spacingAndGlyphs" stroke="#1c1c1c" stroke-width="0.08">Helical phase</text>
<text x="504.85" y="30.60" font-family='"Liberation Sans", sans-serif' font-size="6.10" text-anchor="start" font-weight="normal" font-style="normal" fill="#1c1c1c" textLength="54.14" lengthAdjust="spacingAndGlyphs" stroke="#1c1c1c" stroke-width="0.08">gradient contribution</text>
<text x="558.91" y="31.40" font-family='"Liberation Sans", sans-serif' font-size="6.10" text-anchor="start" font-weight="normal" font-style="normal" fill="#1c1c1c" textLength="2.88" lengthAdjust="spacingAndGlyphs" stroke="#1c1c1c" stroke-width="0.08">|</text>
<text x="561.86" y="30.60" font-family='"Liberation Sans", sans-serif' font-size="6.10" text-anchor="start" font-weight="normal" font-style="italic" fill="#1c1c1c" textLength="2.65" lengthAdjust="spacingAndGlyphs" stroke="#1c1c1c" stroke-width="0.08">&#8467;</text>
<text x="564.81" y="31.40" font-family='"Liberation Sans", sans-serif' font-size="6.10" text-anchor="start" font-weight="normal" font-style="normal" fill="#1c1c1c" textLength="2.88" lengthAdjust="spacingAndGlyphs" stroke="#1c1c1c" stroke-width="0.08">|</text>
<text x="568.66" y="30.60" font-family='"Liberation Sans", sans-serif' font-size="6.10" text-anchor="start" font-weight="normal" font-style="normal" fill="#1c1c1c" textLength="8.00" lengthAdjust="spacingAndGlyphs" stroke="#1c1c1c" stroke-width="0.08">=2</text>
<line x1="484.90" y1="44.10" x2="501.90" y2="44.10" stroke="#5b9bd5" stroke-width="1.3"/>
<text x="504.87" y="46.20" font-family='"Liberation Sans", sans-serif' font-size="6.10" text-anchor="start" font-weight="normal" font-style="normal" fill="#1c1c1c" textLength="21.23" lengthAdjust="spacingAndGlyphs" stroke="#1c1c1c" stroke-width="0.08">Total for</text>
<text x="527.86" y="46.20" font-family='"Liberation Sans", sans-serif' font-size="6.10" text-anchor="start" font-weight="normal" font-style="italic" fill="#1c1c1c" textLength="2.83" lengthAdjust="spacingAndGlyphs" stroke="#1c1c1c" stroke-width="0.08">&#8467;</text>
<text x="533.49" y="46.20" font-family='"Liberation Sans", sans-serif' font-size="6.10" text-anchor="start" font-weight="normal" font-style="normal" fill="#1c1c1c" textLength="4.93" lengthAdjust="spacingAndGlyphs" stroke="#1c1c1c" stroke-width="0.08">=</text>
<text x="539.84" y="46.20" font-family='"Liberation Sans", sans-serif' font-size="6.10" text-anchor="start" font-weight="normal" font-style="normal" fill="#1c1c1c" textLength="8.43" lengthAdjust="spacingAndGlyphs" stroke="#1c1c1c" stroke-width="0.08">+2</text>
<line x1="484.90" y1="62.20" x2="501.90" y2="62.20" stroke="#c00000" stroke-width="1.3"/>
<text x="506.37" y="65.30" font-family='"Liberation Sans", sans-serif' font-size="6.10" text-anchor="start" font-weight="normal" font-style="normal" fill="#1c1c1c" textLength="20.92" lengthAdjust="spacingAndGlyphs" stroke="#1c1c1c" stroke-width="0.08">Total for</text>
<text x="528.95" y="65.30" font-family='"Liberation Sans", sans-serif' font-size="6.10" text-anchor="start" font-weight="normal" font-style="italic" fill="#1c1c1c" textLength="2.66" lengthAdjust="spacingAndGlyphs" stroke="#1c1c1c" stroke-width="0.08">&#8467;</text>
<text x="534.79" y="65.30" font-family='"Liberation Sans", sans-serif' font-size="6.10" text-anchor="start" font-weight="normal" font-style="normal" fill="#1c1c1c" textLength="4.93" lengthAdjust="spacingAndGlyphs" stroke="#1c1c1c" stroke-width="0.08">=</text>
<text x="541.14" y="65.30" font-family='"Liberation Sans", sans-serif' font-size="6.10" text-anchor="start" font-weight="normal" font-style="normal" fill="#1c1c1c" textLength="8.44" lengthAdjust="spacingAndGlyphs" stroke="#1c1c1c" stroke-width="0.08">&#8722;2</text>
<text x="9.80" y="9.60" font-family='"Liberation Sans", sans-serif' font-size="10.50" text-anchor="start" font-weight="normal" font-style="normal" fill="#111" stroke="#111" stroke-width="0.55">a)</text>
<text x="306.60" y="10.60" font-family='"Liberation Sans", sans-serif' font-size="10.50" text-anchor="start" font-weight="normal" font-style="normal" fill="#111" stroke="#111" stroke-width="0.55">b)</text>
<text x="9.60" y="171.10" font-family='"Liberation Sans", sans-serif' font-size="10.50" text-anchor="start" font-weight="normal" font-style="normal" fill="#111" stroke="#111" stroke-width="0.55">c)</text>
<text x="297.60" y="170.80" font-family='"Liberation Sans", sans-serif' font-size="10.50" text-anchor="start" font-weight="normal" font-style="normal" fill="#111" stroke="#111" stroke-width="0.55">d)</text>
<text x="7.00" y="41.20" font-family='"Liberation Serif", serif' font-size="10.70" font-style="italic" fill="#1a1a1a" stroke="#1a1a1a" stroke-width="0.12" textLength="12.60" lengthAdjust="spacingAndGlyphs">kw</text>
<text x="19.70" y="44.30" font-family='"Liberation Serif", serif' font-size="8.30" fill="#222" textLength="3.40" lengthAdjust="spacingAndGlyphs">0</text>
<rect x="26.70" y="36.93" width="5.30" height="0.75" fill="#4a4a4a"/>
<rect x="26.70" y="39.23" width="5.30" height="0.75" fill="#4a4a4a"/>
<text x="34.90" y="41.80" font-family='"Liberation Serif", serif' font-size="11.80" fill="#111" stroke="#111" stroke-width="0.25" textLength="5.40" lengthAdjust="spacingAndGlyphs">4</text>
<text x="306.70" y="40.70" font-family='"Liberation Serif", serif' font-size="10.50" font-style="italic" fill="#1a1a1a" stroke="#1a1a1a" stroke-width="0.12" textLength="11.80" lengthAdjust="spacingAndGlyphs">kw</text>
<text x="318.70" y="44.40" font-family='"Liberation Serif", serif' font-size="7.90" fill="#222" textLength="3.00" lengthAdjust="spacingAndGlyphs">0</text>
<rect x="325.80" y="37.23" width="4.50" height="0.75" fill="#4a4a4a"/>
<rect x="325.80" y="39.33" width="4.50" height="0.75" fill="#4a4a4a"/>
<text x="333.90" y="40.70" font-family='"Liberation Serif", serif' font-size="9.80" fill="#111" stroke="#111" stroke-width="0.05" textLength="5.30" lengthAdjust="spacingAndGlyphs">4</text>
<text x="7.10" y="193.00" font-family='"Liberation Serif", serif' font-size="9.80" font-style="italic" fill="#1a1a1a" stroke="#1a1a1a" stroke-width="0.05" textLength="11.30" lengthAdjust="spacingAndGlyphs">kw</text>
<text x="18.60" y="195.80" font-family='"Liberation Serif", serif' font-size="6.80" fill="#222" textLength="3.10" lengthAdjust="spacingAndGlyphs">0</text>
<rect x="25.10" y="188.93" width="5.30" height="0.75" fill="#4a4a4a"/>
<rect x="25.10" y="191.13" width="5.30" height="0.75" fill="#4a4a4a"/>
<text x="32.90" y="193.50" font-family='"Liberation Serif", serif' font-size="10.80" fill="#111" stroke="#111" stroke-width="0.3" textLength="10.00" lengthAdjust="spacingAndGlyphs">20</text>
<text x="295.00" y="191.80" font-family='"Liberation Serif", serif' font-size="9.60" font-style="italic" fill="#1a1a1a" stroke="#1a1a1a" stroke-width="0.05" textLength="11.30" lengthAdjust="spacingAndGlyphs">kw</text>
<text x="306.60" y="194.80" font-family='"Liberation Serif", serif' font-size="6.70" fill="#222" textLength="3.10" lengthAdjust="spacingAndGlyphs">0</text>
<rect x="312.90" y="188.33" width="4.70" height="0.75" fill="#4a4a4a"/>
<rect x="312.90" y="190.73" width="4.70" height="0.75" fill="#4a4a4a"/>
<text x="320.80" y="191.80" font-family='"Liberation Serif", serif' font-size="10.20" fill="#111" stroke="#111" stroke-width="0.3" textLength="10.10" lengthAdjust="spacingAndGlyphs">20</text>
<path d="M106.4,12.5 L103.8,18.3 L109.0,18.3 Z" fill="none" stroke="#000" stroke-width="1.45" stroke-linejoin="miter"/>
<text x="81.2" y="147.1" font-family='"Liberation Sans", sans-serif' font-size="10.3" fill="#111" stroke="#111" stroke-width="0.35" textLength="72" lengthAdjust="spacingAndGlyphs">Radial position <tspan font-style="italic">r</tspan></text>
</svg>
</body></html>
